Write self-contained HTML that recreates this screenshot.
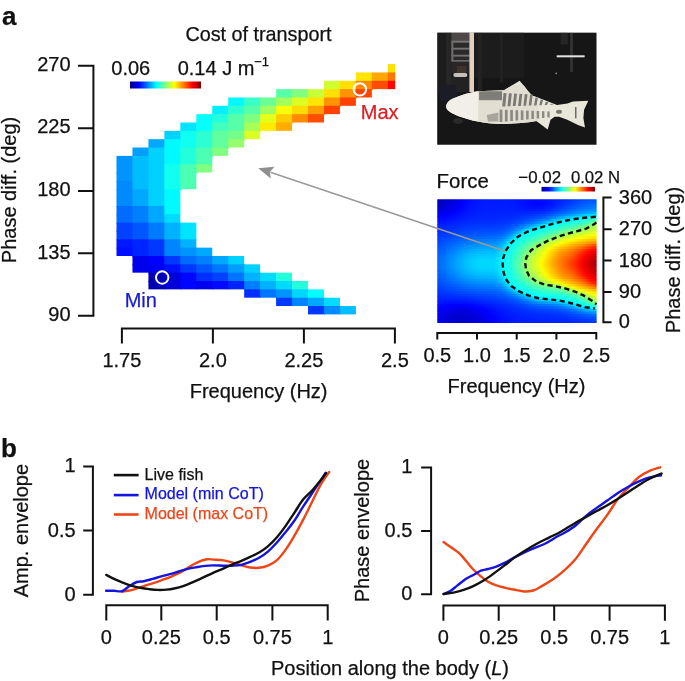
<!DOCTYPE html>
<html><head><meta charset="utf-8"><style>
html,body{margin:0;padding:0;background:#fff;}
svg{display:block;}
text{font-family:"Liberation Sans", sans-serif;fill:#111;stroke:#111;stroke-width:0.25px;}
svg{filter:blur(0.3px);}
</style></head><body>
<svg width="685" height="681" viewBox="0 0 685 681">
<defs>
<linearGradient id="jet" x1="0" x2="1" y1="0" y2="0"><stop offset="0.000" stop-color="#000080"/><stop offset="0.062" stop-color="#0000bf"/><stop offset="0.125" stop-color="#0000ff"/><stop offset="0.188" stop-color="#0040ff"/><stop offset="0.250" stop-color="#0080ff"/><stop offset="0.312" stop-color="#00bfff"/><stop offset="0.375" stop-color="#00ffff"/><stop offset="0.438" stop-color="#40ffbf"/><stop offset="0.500" stop-color="#80ff80"/><stop offset="0.562" stop-color="#bfff40"/><stop offset="0.625" stop-color="#ffff00"/><stop offset="0.688" stop-color="#ffbf00"/><stop offset="0.750" stop-color="#ff8000"/><stop offset="0.812" stop-color="#ff4000"/><stop offset="0.875" stop-color="#ff0000"/><stop offset="0.938" stop-color="#bf0000"/><stop offset="1.000" stop-color="#800000"/></linearGradient>
<clipPath id="fclip"><rect x="437.3" y="199.2" width="159.3" height="123.8"/></clipPath>
<filter id="soft" x="0" y="0" width="1" height="1"><feGaussianBlur stdDeviation="0.45"/></filter>
<clipPath id="pclip"><rect x="437.2" y="32.5" width="159.3" height="112.3"/></clipPath>
<linearGradient id="g0" gradientUnits="userSpaceOnUse" x1="437.3" x2="596.6" y1="0" y2="0"><stop offset="0.000" stop-color="#0000bf"/><stop offset="0.025" stop-color="#0000c1"/><stop offset="0.050" stop-color="#0000c8"/><stop offset="0.075" stop-color="#0000d2"/><stop offset="0.100" stop-color="#0000de"/><stop offset="0.126" stop-color="#0000eb"/><stop offset="0.151" stop-color="#0000f7"/><stop offset="0.176" stop-color="#0003ff"/><stop offset="0.201" stop-color="#000bff"/><stop offset="0.226" stop-color="#0011ff"/><stop offset="0.251" stop-color="#0015ff"/><stop offset="0.276" stop-color="#0018ff"/><stop offset="0.301" stop-color="#0019ff"/><stop offset="0.326" stop-color="#001aff"/><stop offset="0.352" stop-color="#001bff"/><stop offset="0.377" stop-color="#001bff"/><stop offset="0.402" stop-color="#001bff"/><stop offset="0.427" stop-color="#001aff"/><stop offset="0.452" stop-color="#0019ff"/><stop offset="0.477" stop-color="#0018ff"/><stop offset="0.502" stop-color="#0016ff"/><stop offset="0.527" stop-color="#0013ff"/><stop offset="0.552" stop-color="#0010ff"/><stop offset="0.578" stop-color="#000dff"/><stop offset="0.603" stop-color="#000aff"/><stop offset="0.628" stop-color="#0009ff"/><stop offset="0.653" stop-color="#000aff"/><stop offset="0.678" stop-color="#000cff"/><stop offset="0.703" stop-color="#0011ff"/><stop offset="0.728" stop-color="#0017ff"/><stop offset="0.753" stop-color="#001dff"/><stop offset="0.778" stop-color="#0024ff"/><stop offset="0.804" stop-color="#002aff"/><stop offset="0.829" stop-color="#0031ff"/><stop offset="0.854" stop-color="#0038ff"/><stop offset="0.879" stop-color="#003fff"/><stop offset="0.904" stop-color="#0046ff"/><stop offset="0.929" stop-color="#004cff"/><stop offset="0.954" stop-color="#0050ff"/><stop offset="0.979" stop-color="#0053ff"/><stop offset="1.000" stop-color="#0054ff"/></linearGradient>
<linearGradient id="g1" gradientUnits="userSpaceOnUse" x1="437.3" x2="596.6" y1="0" y2="0"><stop offset="0.000" stop-color="#0000c4"/><stop offset="0.025" stop-color="#0000c5"/><stop offset="0.050" stop-color="#0000cc"/><stop offset="0.075" stop-color="#0000d5"/><stop offset="0.100" stop-color="#0000e1"/><stop offset="0.126" stop-color="#0000ee"/><stop offset="0.151" stop-color="#0000f9"/><stop offset="0.176" stop-color="#0004ff"/><stop offset="0.201" stop-color="#000cff"/><stop offset="0.226" stop-color="#0012ff"/><stop offset="0.251" stop-color="#0016ff"/><stop offset="0.276" stop-color="#0018ff"/><stop offset="0.301" stop-color="#001aff"/><stop offset="0.326" stop-color="#001bff"/><stop offset="0.352" stop-color="#001bff"/><stop offset="0.377" stop-color="#001bff"/><stop offset="0.402" stop-color="#001bff"/><stop offset="0.427" stop-color="#001bff"/><stop offset="0.452" stop-color="#001aff"/><stop offset="0.477" stop-color="#0018ff"/><stop offset="0.502" stop-color="#0015ff"/><stop offset="0.527" stop-color="#0012ff"/><stop offset="0.552" stop-color="#000eff"/><stop offset="0.578" stop-color="#000aff"/><stop offset="0.603" stop-color="#0007ff"/><stop offset="0.628" stop-color="#0006ff"/><stop offset="0.653" stop-color="#0007ff"/><stop offset="0.678" stop-color="#000aff"/><stop offset="0.703" stop-color="#0010ff"/><stop offset="0.728" stop-color="#0017ff"/><stop offset="0.753" stop-color="#001fff"/><stop offset="0.778" stop-color="#0028ff"/><stop offset="0.804" stop-color="#0030ff"/><stop offset="0.829" stop-color="#0038ff"/><stop offset="0.854" stop-color="#0041ff"/><stop offset="0.879" stop-color="#0049ff"/><stop offset="0.904" stop-color="#0051ff"/><stop offset="0.929" stop-color="#0058ff"/><stop offset="0.954" stop-color="#005dff"/><stop offset="0.979" stop-color="#0061ff"/><stop offset="1.000" stop-color="#0062ff"/></linearGradient>
<linearGradient id="g2" gradientUnits="userSpaceOnUse" x1="437.3" x2="596.6" y1="0" y2="0"><stop offset="0.000" stop-color="#0000cb"/><stop offset="0.025" stop-color="#0000cc"/><stop offset="0.050" stop-color="#0000d2"/><stop offset="0.075" stop-color="#0000db"/><stop offset="0.100" stop-color="#0000e6"/><stop offset="0.126" stop-color="#0000f2"/><stop offset="0.151" stop-color="#0000fd"/><stop offset="0.176" stop-color="#0007ff"/><stop offset="0.201" stop-color="#000eff"/><stop offset="0.226" stop-color="#0013ff"/><stop offset="0.251" stop-color="#0017ff"/><stop offset="0.276" stop-color="#001aff"/><stop offset="0.301" stop-color="#001bff"/><stop offset="0.326" stop-color="#001cff"/><stop offset="0.352" stop-color="#001cff"/><stop offset="0.377" stop-color="#001cff"/><stop offset="0.402" stop-color="#001cff"/><stop offset="0.427" stop-color="#001cff"/><stop offset="0.452" stop-color="#001aff"/><stop offset="0.477" stop-color="#0019ff"/><stop offset="0.502" stop-color="#0016ff"/><stop offset="0.527" stop-color="#0013ff"/><stop offset="0.552" stop-color="#000fff"/><stop offset="0.578" stop-color="#000bff"/><stop offset="0.603" stop-color="#0008ff"/><stop offset="0.628" stop-color="#0007ff"/><stop offset="0.653" stop-color="#0009ff"/><stop offset="0.678" stop-color="#000dff"/><stop offset="0.703" stop-color="#0014ff"/><stop offset="0.728" stop-color="#001cff"/><stop offset="0.753" stop-color="#0025ff"/><stop offset="0.778" stop-color="#002fff"/><stop offset="0.804" stop-color="#0038ff"/><stop offset="0.829" stop-color="#0041ff"/><stop offset="0.854" stop-color="#004aff"/><stop offset="0.879" stop-color="#0054ff"/><stop offset="0.904" stop-color="#005dff"/><stop offset="0.929" stop-color="#0064ff"/><stop offset="0.954" stop-color="#0069ff"/><stop offset="0.979" stop-color="#006eff"/><stop offset="1.000" stop-color="#006fff"/></linearGradient>
<linearGradient id="g3" gradientUnits="userSpaceOnUse" x1="437.3" x2="596.6" y1="0" y2="0"><stop offset="0.000" stop-color="#0000d4"/><stop offset="0.025" stop-color="#0000d6"/><stop offset="0.050" stop-color="#0000db"/><stop offset="0.075" stop-color="#0000e3"/><stop offset="0.100" stop-color="#0000ed"/><stop offset="0.126" stop-color="#0000f7"/><stop offset="0.151" stop-color="#0002ff"/><stop offset="0.176" stop-color="#000aff"/><stop offset="0.201" stop-color="#0011ff"/><stop offset="0.226" stop-color="#0016ff"/><stop offset="0.251" stop-color="#0019ff"/><stop offset="0.276" stop-color="#001bff"/><stop offset="0.301" stop-color="#001cff"/><stop offset="0.326" stop-color="#001dff"/><stop offset="0.352" stop-color="#001dff"/><stop offset="0.377" stop-color="#001eff"/><stop offset="0.402" stop-color="#001eff"/><stop offset="0.427" stop-color="#001dff"/><stop offset="0.452" stop-color="#001cff"/><stop offset="0.477" stop-color="#001bff"/><stop offset="0.502" stop-color="#0019ff"/><stop offset="0.527" stop-color="#0017ff"/><stop offset="0.552" stop-color="#0013ff"/><stop offset="0.578" stop-color="#0011ff"/><stop offset="0.603" stop-color="#000fff"/><stop offset="0.628" stop-color="#000fff"/><stop offset="0.653" stop-color="#0011ff"/><stop offset="0.678" stop-color="#0016ff"/><stop offset="0.703" stop-color="#001dff"/><stop offset="0.728" stop-color="#0026ff"/><stop offset="0.753" stop-color="#0030ff"/><stop offset="0.778" stop-color="#003aff"/><stop offset="0.804" stop-color="#0043ff"/><stop offset="0.829" stop-color="#004dff"/><stop offset="0.854" stop-color="#0056ff"/><stop offset="0.879" stop-color="#0060ff"/><stop offset="0.904" stop-color="#0069ff"/><stop offset="0.929" stop-color="#0071ff"/><stop offset="0.954" stop-color="#0076ff"/><stop offset="0.979" stop-color="#007bff"/><stop offset="1.000" stop-color="#007dff"/></linearGradient>
<linearGradient id="g4" gradientUnits="userSpaceOnUse" x1="437.3" x2="596.6" y1="0" y2="0"><stop offset="0.000" stop-color="#0000df"/><stop offset="0.025" stop-color="#0000e1"/><stop offset="0.050" stop-color="#0000e6"/><stop offset="0.075" stop-color="#0000ed"/><stop offset="0.100" stop-color="#0000f5"/><stop offset="0.126" stop-color="#0000fe"/><stop offset="0.151" stop-color="#0007ff"/><stop offset="0.176" stop-color="#000eff"/><stop offset="0.201" stop-color="#0014ff"/><stop offset="0.226" stop-color="#0018ff"/><stop offset="0.251" stop-color="#001bff"/><stop offset="0.276" stop-color="#001dff"/><stop offset="0.301" stop-color="#001eff"/><stop offset="0.326" stop-color="#001fff"/><stop offset="0.352" stop-color="#001fff"/><stop offset="0.377" stop-color="#001fff"/><stop offset="0.402" stop-color="#001fff"/><stop offset="0.427" stop-color="#001fff"/><stop offset="0.452" stop-color="#001fff"/><stop offset="0.477" stop-color="#001fff"/><stop offset="0.502" stop-color="#001eff"/><stop offset="0.527" stop-color="#001dff"/><stop offset="0.552" stop-color="#001bff"/><stop offset="0.578" stop-color="#001aff"/><stop offset="0.603" stop-color="#001aff"/><stop offset="0.628" stop-color="#001bff"/><stop offset="0.653" stop-color="#001fff"/><stop offset="0.678" stop-color="#0024ff"/><stop offset="0.703" stop-color="#002cff"/><stop offset="0.728" stop-color="#0035ff"/><stop offset="0.753" stop-color="#003fff"/><stop offset="0.778" stop-color="#004aff"/><stop offset="0.804" stop-color="#0054ff"/><stop offset="0.829" stop-color="#005dff"/><stop offset="0.854" stop-color="#0067ff"/><stop offset="0.879" stop-color="#0071ff"/><stop offset="0.904" stop-color="#007bff"/><stop offset="0.929" stop-color="#0083ff"/><stop offset="0.954" stop-color="#0089ff"/><stop offset="0.979" stop-color="#008fff"/><stop offset="1.000" stop-color="#0091ff"/></linearGradient>
<linearGradient id="g5" gradientUnits="userSpaceOnUse" x1="437.3" x2="596.6" y1="0" y2="0"><stop offset="0.000" stop-color="#0000eb"/><stop offset="0.025" stop-color="#0000ed"/><stop offset="0.050" stop-color="#0000f1"/><stop offset="0.075" stop-color="#0000f7"/><stop offset="0.100" stop-color="#0000fe"/><stop offset="0.126" stop-color="#0006ff"/><stop offset="0.151" stop-color="#000dff"/><stop offset="0.176" stop-color="#0013ff"/><stop offset="0.201" stop-color="#0018ff"/><stop offset="0.226" stop-color="#001bff"/><stop offset="0.251" stop-color="#001eff"/><stop offset="0.276" stop-color="#001fff"/><stop offset="0.301" stop-color="#0020ff"/><stop offset="0.326" stop-color="#0021ff"/><stop offset="0.352" stop-color="#0021ff"/><stop offset="0.377" stop-color="#0022ff"/><stop offset="0.402" stop-color="#0022ff"/><stop offset="0.427" stop-color="#0022ff"/><stop offset="0.452" stop-color="#0023ff"/><stop offset="0.477" stop-color="#0023ff"/><stop offset="0.502" stop-color="#0024ff"/><stop offset="0.527" stop-color="#0024ff"/><stop offset="0.552" stop-color="#0025ff"/><stop offset="0.578" stop-color="#0026ff"/><stop offset="0.603" stop-color="#0028ff"/><stop offset="0.628" stop-color="#002bff"/><stop offset="0.653" stop-color="#002fff"/><stop offset="0.678" stop-color="#0036ff"/><stop offset="0.703" stop-color="#003fff"/><stop offset="0.728" stop-color="#0049ff"/><stop offset="0.753" stop-color="#0054ff"/><stop offset="0.778" stop-color="#0060ff"/><stop offset="0.804" stop-color="#006cff"/><stop offset="0.829" stop-color="#0076ff"/><stop offset="0.854" stop-color="#0081ff"/><stop offset="0.879" stop-color="#008cff"/><stop offset="0.904" stop-color="#0098ff"/><stop offset="0.929" stop-color="#00a1ff"/><stop offset="0.954" stop-color="#00a8ff"/><stop offset="0.979" stop-color="#00b0ff"/><stop offset="1.000" stop-color="#00b2ff"/></linearGradient>
<linearGradient id="g6" gradientUnits="userSpaceOnUse" x1="437.3" x2="596.6" y1="0" y2="0"><stop offset="0.000" stop-color="#0000f7"/><stop offset="0.025" stop-color="#0000f8"/><stop offset="0.050" stop-color="#0000fc"/><stop offset="0.075" stop-color="#0002ff"/><stop offset="0.100" stop-color="#0007ff"/><stop offset="0.126" stop-color="#000eff"/><stop offset="0.151" stop-color="#0013ff"/><stop offset="0.176" stop-color="#0018ff"/><stop offset="0.201" stop-color="#001cff"/><stop offset="0.226" stop-color="#001fff"/><stop offset="0.251" stop-color="#0021ff"/><stop offset="0.276" stop-color="#0022ff"/><stop offset="0.301" stop-color="#0023ff"/><stop offset="0.326" stop-color="#0024ff"/><stop offset="0.352" stop-color="#0024ff"/><stop offset="0.377" stop-color="#0024ff"/><stop offset="0.402" stop-color="#0025ff"/><stop offset="0.427" stop-color="#0026ff"/><stop offset="0.452" stop-color="#0027ff"/><stop offset="0.477" stop-color="#0028ff"/><stop offset="0.502" stop-color="#002aff"/><stop offset="0.527" stop-color="#002dff"/><stop offset="0.552" stop-color="#002fff"/><stop offset="0.578" stop-color="#0033ff"/><stop offset="0.603" stop-color="#0037ff"/><stop offset="0.628" stop-color="#003cff"/><stop offset="0.653" stop-color="#0043ff"/><stop offset="0.678" stop-color="#004bff"/><stop offset="0.703" stop-color="#0056ff"/><stop offset="0.728" stop-color="#0063ff"/><stop offset="0.753" stop-color="#0071ff"/><stop offset="0.778" stop-color="#0080ff"/><stop offset="0.804" stop-color="#008fff"/><stop offset="0.829" stop-color="#009cff"/><stop offset="0.854" stop-color="#00a9ff"/><stop offset="0.879" stop-color="#00b7ff"/><stop offset="0.904" stop-color="#00c6ff"/><stop offset="0.929" stop-color="#00d0ff"/><stop offset="0.954" stop-color="#00d9ff"/><stop offset="0.979" stop-color="#00e2ff"/><stop offset="1.000" stop-color="#00e5ff"/></linearGradient>
<linearGradient id="g7" gradientUnits="userSpaceOnUse" x1="437.3" x2="596.6" y1="0" y2="0"><stop offset="0.000" stop-color="#0003ff"/><stop offset="0.025" stop-color="#0004ff"/><stop offset="0.050" stop-color="#0007ff"/><stop offset="0.075" stop-color="#000bff"/><stop offset="0.100" stop-color="#0010ff"/><stop offset="0.126" stop-color="#0015ff"/><stop offset="0.151" stop-color="#001aff"/><stop offset="0.176" stop-color="#001eff"/><stop offset="0.201" stop-color="#0021ff"/><stop offset="0.226" stop-color="#0023ff"/><stop offset="0.251" stop-color="#0025ff"/><stop offset="0.276" stop-color="#0026ff"/><stop offset="0.301" stop-color="#0027ff"/><stop offset="0.326" stop-color="#0027ff"/><stop offset="0.352" stop-color="#0027ff"/><stop offset="0.377" stop-color="#0028ff"/><stop offset="0.402" stop-color="#0029ff"/><stop offset="0.427" stop-color="#002aff"/><stop offset="0.452" stop-color="#002cff"/><stop offset="0.477" stop-color="#002eff"/><stop offset="0.502" stop-color="#0032ff"/><stop offset="0.527" stop-color="#0036ff"/><stop offset="0.552" stop-color="#003cff"/><stop offset="0.578" stop-color="#0041ff"/><stop offset="0.603" stop-color="#0048ff"/><stop offset="0.628" stop-color="#0050ff"/><stop offset="0.653" stop-color="#0059ff"/><stop offset="0.678" stop-color="#0065ff"/><stop offset="0.703" stop-color="#0074ff"/><stop offset="0.728" stop-color="#0085ff"/><stop offset="0.753" stop-color="#0099ff"/><stop offset="0.778" stop-color="#00adff"/><stop offset="0.804" stop-color="#00c0ff"/><stop offset="0.829" stop-color="#00d0ff"/><stop offset="0.854" stop-color="#00dfff"/><stop offset="0.879" stop-color="#00ebff"/><stop offset="0.904" stop-color="#00f7ff"/><stop offset="0.929" stop-color="#00ffff"/><stop offset="0.954" stop-color="#08fff7"/><stop offset="0.979" stop-color="#13ffec"/><stop offset="1.000" stop-color="#1bffe4"/></linearGradient>
<linearGradient id="g8" gradientUnits="userSpaceOnUse" x1="437.3" x2="596.6" y1="0" y2="0"><stop offset="0.000" stop-color="#000dff"/><stop offset="0.025" stop-color="#000eff"/><stop offset="0.050" stop-color="#0011ff"/><stop offset="0.075" stop-color="#0014ff"/><stop offset="0.100" stop-color="#0018ff"/><stop offset="0.126" stop-color="#001cff"/><stop offset="0.151" stop-color="#0020ff"/><stop offset="0.176" stop-color="#0023ff"/><stop offset="0.201" stop-color="#0026ff"/><stop offset="0.226" stop-color="#0028ff"/><stop offset="0.251" stop-color="#0029ff"/><stop offset="0.276" stop-color="#002aff"/><stop offset="0.301" stop-color="#002bff"/><stop offset="0.326" stop-color="#002bff"/><stop offset="0.352" stop-color="#002cff"/><stop offset="0.377" stop-color="#002cff"/><stop offset="0.402" stop-color="#002eff"/><stop offset="0.427" stop-color="#0030ff"/><stop offset="0.452" stop-color="#0033ff"/><stop offset="0.477" stop-color="#0036ff"/><stop offset="0.502" stop-color="#003bff"/><stop offset="0.527" stop-color="#0043ff"/><stop offset="0.552" stop-color="#004bff"/><stop offset="0.578" stop-color="#0054ff"/><stop offset="0.603" stop-color="#005eff"/><stop offset="0.628" stop-color="#006aff"/><stop offset="0.653" stop-color="#0077ff"/><stop offset="0.678" stop-color="#0088ff"/><stop offset="0.703" stop-color="#009cff"/><stop offset="0.728" stop-color="#00b4ff"/><stop offset="0.753" stop-color="#00cdff"/><stop offset="0.778" stop-color="#00e3ff"/><stop offset="0.804" stop-color="#00f4ff"/><stop offset="0.829" stop-color="#00feff"/><stop offset="0.854" stop-color="#07fff8"/><stop offset="0.879" stop-color="#0dfff2"/><stop offset="0.904" stop-color="#14ffeb"/><stop offset="0.929" stop-color="#1cffe3"/><stop offset="0.954" stop-color="#29ffd6"/><stop offset="0.979" stop-color="#42ffbd"/><stop offset="1.000" stop-color="#59ffa6"/></linearGradient>
<linearGradient id="g9" gradientUnits="userSpaceOnUse" x1="437.3" x2="596.6" y1="0" y2="0"><stop offset="0.000" stop-color="#0016ff"/><stop offset="0.025" stop-color="#0017ff"/><stop offset="0.050" stop-color="#001aff"/><stop offset="0.075" stop-color="#001dff"/><stop offset="0.100" stop-color="#0020ff"/><stop offset="0.126" stop-color="#0024ff"/><stop offset="0.151" stop-color="#0027ff"/><stop offset="0.176" stop-color="#002aff"/><stop offset="0.201" stop-color="#002cff"/><stop offset="0.226" stop-color="#002eff"/><stop offset="0.251" stop-color="#002fff"/><stop offset="0.276" stop-color="#0030ff"/><stop offset="0.301" stop-color="#0030ff"/><stop offset="0.326" stop-color="#0031ff"/><stop offset="0.352" stop-color="#0031ff"/><stop offset="0.377" stop-color="#0032ff"/><stop offset="0.402" stop-color="#0034ff"/><stop offset="0.427" stop-color="#0037ff"/><stop offset="0.452" stop-color="#003bff"/><stop offset="0.477" stop-color="#0041ff"/><stop offset="0.502" stop-color="#0048ff"/><stop offset="0.527" stop-color="#0052ff"/><stop offset="0.552" stop-color="#005fff"/><stop offset="0.578" stop-color="#006cff"/><stop offset="0.603" stop-color="#007cff"/><stop offset="0.628" stop-color="#008dff"/><stop offset="0.653" stop-color="#00a0ff"/><stop offset="0.678" stop-color="#00b7ff"/><stop offset="0.703" stop-color="#00d1ff"/><stop offset="0.728" stop-color="#00e9ff"/><stop offset="0.753" stop-color="#00fcff"/><stop offset="0.778" stop-color="#08fff7"/><stop offset="0.804" stop-color="#10ffef"/><stop offset="0.829" stop-color="#16ffe9"/><stop offset="0.854" stop-color="#1cffe3"/><stop offset="0.879" stop-color="#24ffdb"/><stop offset="0.904" stop-color="#2dffd2"/><stop offset="0.929" stop-color="#3affc5"/><stop offset="0.954" stop-color="#51ffae"/><stop offset="0.979" stop-color="#74ff8b"/><stop offset="1.000" stop-color="#90ff6f"/></linearGradient>
<linearGradient id="g10" gradientUnits="userSpaceOnUse" x1="437.3" x2="596.6" y1="0" y2="0"><stop offset="0.000" stop-color="#001eff"/><stop offset="0.025" stop-color="#001fff"/><stop offset="0.050" stop-color="#0022ff"/><stop offset="0.075" stop-color="#0025ff"/><stop offset="0.100" stop-color="#0028ff"/><stop offset="0.126" stop-color="#002bff"/><stop offset="0.151" stop-color="#002eff"/><stop offset="0.176" stop-color="#0030ff"/><stop offset="0.201" stop-color="#0033ff"/><stop offset="0.226" stop-color="#0034ff"/><stop offset="0.251" stop-color="#0035ff"/><stop offset="0.276" stop-color="#0036ff"/><stop offset="0.301" stop-color="#0037ff"/><stop offset="0.326" stop-color="#0037ff"/><stop offset="0.352" stop-color="#0038ff"/><stop offset="0.377" stop-color="#0039ff"/><stop offset="0.402" stop-color="#003bff"/><stop offset="0.427" stop-color="#003fff"/><stop offset="0.452" stop-color="#0046ff"/><stop offset="0.477" stop-color="#004fff"/><stop offset="0.502" stop-color="#0059ff"/><stop offset="0.527" stop-color="#0068ff"/><stop offset="0.552" stop-color="#007bff"/><stop offset="0.578" stop-color="#008fff"/><stop offset="0.603" stop-color="#00a5ff"/><stop offset="0.628" stop-color="#00beff"/><stop offset="0.653" stop-color="#00d5ff"/><stop offset="0.678" stop-color="#00ecff"/><stop offset="0.703" stop-color="#00fdff"/><stop offset="0.728" stop-color="#0afff5"/><stop offset="0.753" stop-color="#12ffed"/><stop offset="0.778" stop-color="#1bffe4"/><stop offset="0.804" stop-color="#24ffdb"/><stop offset="0.829" stop-color="#2dffd2"/><stop offset="0.854" stop-color="#37ffc8"/><stop offset="0.879" stop-color="#42ffbd"/><stop offset="0.904" stop-color="#4fffb0"/><stop offset="0.929" stop-color="#60ff9f"/><stop offset="0.954" stop-color="#7dff82"/><stop offset="0.979" stop-color="#9aff65"/><stop offset="1.000" stop-color="#aaff55"/></linearGradient>
<linearGradient id="g11" gradientUnits="userSpaceOnUse" x1="437.3" x2="596.6" y1="0" y2="0"><stop offset="0.000" stop-color="#0024ff"/><stop offset="0.025" stop-color="#0027ff"/><stop offset="0.050" stop-color="#0029ff"/><stop offset="0.075" stop-color="#002cff"/><stop offset="0.100" stop-color="#002fff"/><stop offset="0.126" stop-color="#0032ff"/><stop offset="0.151" stop-color="#0035ff"/><stop offset="0.176" stop-color="#0038ff"/><stop offset="0.201" stop-color="#003aff"/><stop offset="0.226" stop-color="#003cff"/><stop offset="0.251" stop-color="#003dff"/><stop offset="0.276" stop-color="#003eff"/><stop offset="0.301" stop-color="#003eff"/><stop offset="0.326" stop-color="#003fff"/><stop offset="0.352" stop-color="#0040ff"/><stop offset="0.377" stop-color="#0041ff"/><stop offset="0.402" stop-color="#0044ff"/><stop offset="0.427" stop-color="#004aff"/><stop offset="0.452" stop-color="#0053ff"/><stop offset="0.477" stop-color="#0060ff"/><stop offset="0.502" stop-color="#0070ff"/><stop offset="0.527" stop-color="#0084ff"/><stop offset="0.552" stop-color="#00a0ff"/><stop offset="0.578" stop-color="#00bdff"/><stop offset="0.603" stop-color="#00d9ff"/><stop offset="0.628" stop-color="#00f1ff"/><stop offset="0.653" stop-color="#00ffff"/><stop offset="0.678" stop-color="#0afff5"/><stop offset="0.703" stop-color="#12ffed"/><stop offset="0.728" stop-color="#1bffe4"/><stop offset="0.753" stop-color="#26ffd9"/><stop offset="0.778" stop-color="#32ffcd"/><stop offset="0.804" stop-color="#40ffbf"/><stop offset="0.829" stop-color="#4cffb3"/><stop offset="0.854" stop-color="#58ffa7"/><stop offset="0.879" stop-color="#67ff98"/><stop offset="0.904" stop-color="#76ff89"/><stop offset="0.929" stop-color="#88ff77"/><stop offset="0.954" stop-color="#9fff60"/><stop offset="0.979" stop-color="#b2ff4d"/><stop offset="1.000" stop-color="#bcff43"/></linearGradient>
<linearGradient id="g12" gradientUnits="userSpaceOnUse" x1="437.3" x2="596.6" y1="0" y2="0"><stop offset="0.000" stop-color="#002bff"/><stop offset="0.025" stop-color="#002dff"/><stop offset="0.050" stop-color="#0030ff"/><stop offset="0.075" stop-color="#0033ff"/><stop offset="0.100" stop-color="#0037ff"/><stop offset="0.126" stop-color="#003aff"/><stop offset="0.151" stop-color="#003dff"/><stop offset="0.176" stop-color="#0040ff"/><stop offset="0.201" stop-color="#0042ff"/><stop offset="0.226" stop-color="#0044ff"/><stop offset="0.251" stop-color="#0046ff"/><stop offset="0.276" stop-color="#0046ff"/><stop offset="0.301" stop-color="#0047ff"/><stop offset="0.326" stop-color="#0048ff"/><stop offset="0.352" stop-color="#0049ff"/><stop offset="0.377" stop-color="#004bff"/><stop offset="0.402" stop-color="#0050ff"/><stop offset="0.427" stop-color="#0057ff"/><stop offset="0.452" stop-color="#0063ff"/><stop offset="0.477" stop-color="#0076ff"/><stop offset="0.502" stop-color="#008eff"/><stop offset="0.527" stop-color="#00abff"/><stop offset="0.552" stop-color="#00d0ff"/><stop offset="0.578" stop-color="#00efff"/><stop offset="0.603" stop-color="#01fffe"/><stop offset="0.628" stop-color="#0bfff4"/><stop offset="0.653" stop-color="#12ffed"/><stop offset="0.678" stop-color="#1bffe4"/><stop offset="0.703" stop-color="#25ffda"/><stop offset="0.728" stop-color="#31ffce"/><stop offset="0.753" stop-color="#40ffbf"/><stop offset="0.778" stop-color="#50ffaf"/><stop offset="0.804" stop-color="#61ff9e"/><stop offset="0.829" stop-color="#6fff90"/><stop offset="0.854" stop-color="#7eff81"/><stop offset="0.879" stop-color="#8eff71"/><stop offset="0.904" stop-color="#9cff63"/><stop offset="0.929" stop-color="#a9ff56"/><stop offset="0.954" stop-color="#b9ff46"/><stop offset="0.979" stop-color="#c8ff37"/><stop offset="1.000" stop-color="#d0ff2f"/></linearGradient>
<linearGradient id="g13" gradientUnits="userSpaceOnUse" x1="437.3" x2="596.6" y1="0" y2="0"><stop offset="0.000" stop-color="#0031ff"/><stop offset="0.025" stop-color="#0034ff"/><stop offset="0.050" stop-color="#0037ff"/><stop offset="0.075" stop-color="#003bff"/><stop offset="0.100" stop-color="#003fff"/><stop offset="0.126" stop-color="#0042ff"/><stop offset="0.151" stop-color="#0046ff"/><stop offset="0.176" stop-color="#0049ff"/><stop offset="0.201" stop-color="#004cff"/><stop offset="0.226" stop-color="#004eff"/><stop offset="0.251" stop-color="#0050ff"/><stop offset="0.276" stop-color="#0051ff"/><stop offset="0.301" stop-color="#0051ff"/><stop offset="0.326" stop-color="#0052ff"/><stop offset="0.352" stop-color="#0053ff"/><stop offset="0.377" stop-color="#0057ff"/><stop offset="0.402" stop-color="#005cff"/><stop offset="0.427" stop-color="#0067ff"/><stop offset="0.452" stop-color="#0077ff"/><stop offset="0.477" stop-color="#0092ff"/><stop offset="0.502" stop-color="#00b6ff"/><stop offset="0.527" stop-color="#00dbff"/><stop offset="0.552" stop-color="#00f9ff"/><stop offset="0.578" stop-color="#09fff6"/><stop offset="0.603" stop-color="#11ffee"/><stop offset="0.628" stop-color="#19ffe6"/><stop offset="0.653" stop-color="#23ffdc"/><stop offset="0.678" stop-color="#30ffcf"/><stop offset="0.703" stop-color="#3dffc2"/><stop offset="0.728" stop-color="#4dffb2"/><stop offset="0.753" stop-color="#5effa1"/><stop offset="0.778" stop-color="#72ff8d"/><stop offset="0.804" stop-color="#86ff79"/><stop offset="0.829" stop-color="#95ff6a"/><stop offset="0.854" stop-color="#a3ff5c"/><stop offset="0.879" stop-color="#b0ff4f"/><stop offset="0.904" stop-color="#bdff42"/><stop offset="0.929" stop-color="#c8ff37"/><stop offset="0.954" stop-color="#d4ff2b"/><stop offset="0.979" stop-color="#dfff20"/><stop offset="1.000" stop-color="#e5ff1a"/></linearGradient>
<linearGradient id="g14" gradientUnits="userSpaceOnUse" x1="437.3" x2="596.6" y1="0" y2="0"><stop offset="0.000" stop-color="#0036ff"/><stop offset="0.025" stop-color="#003aff"/><stop offset="0.050" stop-color="#003eff"/><stop offset="0.075" stop-color="#0042ff"/><stop offset="0.100" stop-color="#0047ff"/><stop offset="0.126" stop-color="#004bff"/><stop offset="0.151" stop-color="#004fff"/><stop offset="0.176" stop-color="#0053ff"/><stop offset="0.201" stop-color="#0056ff"/><stop offset="0.226" stop-color="#0059ff"/><stop offset="0.251" stop-color="#005bff"/><stop offset="0.276" stop-color="#005cff"/><stop offset="0.301" stop-color="#005dff"/><stop offset="0.326" stop-color="#005eff"/><stop offset="0.352" stop-color="#005fff"/><stop offset="0.377" stop-color="#0063ff"/><stop offset="0.402" stop-color="#006bff"/><stop offset="0.427" stop-color="#0079ff"/><stop offset="0.452" stop-color="#008fff"/><stop offset="0.477" stop-color="#00b3ff"/><stop offset="0.502" stop-color="#00e1ff"/><stop offset="0.527" stop-color="#00feff"/><stop offset="0.552" stop-color="#0cfff3"/><stop offset="0.578" stop-color="#15ffea"/><stop offset="0.603" stop-color="#1fffe0"/><stop offset="0.628" stop-color="#2bffd4"/><stop offset="0.653" stop-color="#39ffc6"/><stop offset="0.678" stop-color="#49ffb6"/><stop offset="0.703" stop-color="#5bffa4"/><stop offset="0.728" stop-color="#6dff92"/><stop offset="0.753" stop-color="#81ff7e"/><stop offset="0.778" stop-color="#96ff69"/><stop offset="0.804" stop-color="#a9ff56"/><stop offset="0.829" stop-color="#b8ff47"/><stop offset="0.854" stop-color="#c4ff3b"/><stop offset="0.879" stop-color="#d0ff2f"/><stop offset="0.904" stop-color="#dcff23"/><stop offset="0.929" stop-color="#e6ff19"/><stop offset="0.954" stop-color="#efff10"/><stop offset="0.979" stop-color="#f8ff07"/><stop offset="1.000" stop-color="#fdff02"/></linearGradient>
<linearGradient id="g15" gradientUnits="userSpaceOnUse" x1="437.3" x2="596.6" y1="0" y2="0"><stop offset="0.000" stop-color="#003cff"/><stop offset="0.025" stop-color="#0040ff"/><stop offset="0.050" stop-color="#0045ff"/><stop offset="0.075" stop-color="#004aff"/><stop offset="0.100" stop-color="#0050ff"/><stop offset="0.126" stop-color="#0055ff"/><stop offset="0.151" stop-color="#005aff"/><stop offset="0.176" stop-color="#005eff"/><stop offset="0.201" stop-color="#0062ff"/><stop offset="0.226" stop-color="#0065ff"/><stop offset="0.251" stop-color="#0067ff"/><stop offset="0.276" stop-color="#0069ff"/><stop offset="0.301" stop-color="#006aff"/><stop offset="0.326" stop-color="#006bff"/><stop offset="0.352" stop-color="#006dff"/><stop offset="0.377" stop-color="#0071ff"/><stop offset="0.402" stop-color="#007bff"/><stop offset="0.427" stop-color="#008eff"/><stop offset="0.452" stop-color="#00acff"/><stop offset="0.477" stop-color="#00d7ff"/><stop offset="0.502" stop-color="#00ffff"/><stop offset="0.527" stop-color="#0dfff2"/><stop offset="0.552" stop-color="#17ffe8"/><stop offset="0.578" stop-color="#24ffdb"/><stop offset="0.603" stop-color="#32ffcd"/><stop offset="0.628" stop-color="#41ffbe"/><stop offset="0.653" stop-color="#52ffad"/><stop offset="0.678" stop-color="#66ff99"/><stop offset="0.703" stop-color="#7bff84"/><stop offset="0.728" stop-color="#8fff70"/><stop offset="0.753" stop-color="#a4ff5b"/><stop offset="0.778" stop-color="#b9ff46"/><stop offset="0.804" stop-color="#ccff33"/><stop offset="0.829" stop-color="#daff25"/><stop offset="0.854" stop-color="#e6ff19"/><stop offset="0.879" stop-color="#f1ff0e"/><stop offset="0.904" stop-color="#fcff03"/><stop offset="0.929" stop-color="#fff700"/><stop offset="0.954" stop-color="#ffef00"/><stop offset="0.979" stop-color="#ffe700"/><stop offset="1.000" stop-color="#ffe200"/></linearGradient>
<linearGradient id="g16" gradientUnits="userSpaceOnUse" x1="437.3" x2="596.6" y1="0" y2="0"><stop offset="0.000" stop-color="#0042ff"/><stop offset="0.025" stop-color="#0047ff"/><stop offset="0.050" stop-color="#004dff"/><stop offset="0.075" stop-color="#0052ff"/><stop offset="0.100" stop-color="#0059ff"/><stop offset="0.126" stop-color="#005fff"/><stop offset="0.151" stop-color="#0065ff"/><stop offset="0.176" stop-color="#006aff"/><stop offset="0.201" stop-color="#006fff"/><stop offset="0.226" stop-color="#0072ff"/><stop offset="0.251" stop-color="#0075ff"/><stop offset="0.276" stop-color="#0077ff"/><stop offset="0.301" stop-color="#0078ff"/><stop offset="0.326" stop-color="#0079ff"/><stop offset="0.352" stop-color="#007bff"/><stop offset="0.377" stop-color="#0080ff"/><stop offset="0.402" stop-color="#008cff"/><stop offset="0.427" stop-color="#00a4ff"/><stop offset="0.452" stop-color="#00cdff"/><stop offset="0.477" stop-color="#00f7ff"/><stop offset="0.502" stop-color="#0cfff3"/><stop offset="0.527" stop-color="#18ffe7"/><stop offset="0.552" stop-color="#25ffda"/><stop offset="0.578" stop-color="#35ffca"/><stop offset="0.603" stop-color="#47ffb8"/><stop offset="0.628" stop-color="#5affa5"/><stop offset="0.653" stop-color="#6fff90"/><stop offset="0.678" stop-color="#86ff79"/><stop offset="0.703" stop-color="#9dff62"/><stop offset="0.728" stop-color="#b1ff4e"/><stop offset="0.753" stop-color="#c6ff39"/><stop offset="0.778" stop-color="#dcff23"/><stop offset="0.804" stop-color="#efff10"/><stop offset="0.829" stop-color="#fcff03"/><stop offset="0.854" stop-color="#fff600"/><stop offset="0.879" stop-color="#ffea00"/><stop offset="0.904" stop-color="#ffde00"/><stop offset="0.929" stop-color="#ffd200"/><stop offset="0.954" stop-color="#ffc800"/><stop offset="0.979" stop-color="#ffc000"/><stop offset="1.000" stop-color="#ffbb00"/></linearGradient>
<linearGradient id="g17" gradientUnits="userSpaceOnUse" x1="437.3" x2="596.6" y1="0" y2="0"><stop offset="0.000" stop-color="#0047ff"/><stop offset="0.025" stop-color="#004dff"/><stop offset="0.050" stop-color="#0054ff"/><stop offset="0.075" stop-color="#005bff"/><stop offset="0.100" stop-color="#0062ff"/><stop offset="0.126" stop-color="#0069ff"/><stop offset="0.151" stop-color="#0070ff"/><stop offset="0.176" stop-color="#0076ff"/><stop offset="0.201" stop-color="#007cff"/><stop offset="0.226" stop-color="#0080ff"/><stop offset="0.251" stop-color="#0083ff"/><stop offset="0.276" stop-color="#0085ff"/><stop offset="0.301" stop-color="#0086ff"/><stop offset="0.326" stop-color="#0087ff"/><stop offset="0.352" stop-color="#008aff"/><stop offset="0.377" stop-color="#0090ff"/><stop offset="0.402" stop-color="#009eff"/><stop offset="0.427" stop-color="#00bbff"/><stop offset="0.452" stop-color="#00eaff"/><stop offset="0.477" stop-color="#08fff7"/><stop offset="0.502" stop-color="#14ffeb"/><stop offset="0.527" stop-color="#24ffdb"/><stop offset="0.552" stop-color="#36ffc9"/><stop offset="0.578" stop-color="#49ffb6"/><stop offset="0.603" stop-color="#5effa1"/><stop offset="0.628" stop-color="#75ff8a"/><stop offset="0.653" stop-color="#8cff73"/><stop offset="0.678" stop-color="#a5ff5a"/><stop offset="0.703" stop-color="#bdff42"/><stop offset="0.728" stop-color="#d3ff2c"/><stop offset="0.753" stop-color="#e8ff17"/><stop offset="0.778" stop-color="#fdff02"/><stop offset="0.804" stop-color="#ffee00"/><stop offset="0.829" stop-color="#ffe100"/><stop offset="0.854" stop-color="#ffd200"/><stop offset="0.879" stop-color="#ffc400"/><stop offset="0.904" stop-color="#ffb800"/><stop offset="0.929" stop-color="#ffab00"/><stop offset="0.954" stop-color="#ff9d00"/><stop offset="0.979" stop-color="#ff9200"/><stop offset="1.000" stop-color="#ff8b00"/></linearGradient>
<linearGradient id="g18" gradientUnits="userSpaceOnUse" x1="437.3" x2="596.6" y1="0" y2="0"><stop offset="0.000" stop-color="#004dff"/><stop offset="0.025" stop-color="#0054ff"/><stop offset="0.050" stop-color="#005bff"/><stop offset="0.075" stop-color="#0063ff"/><stop offset="0.100" stop-color="#006bff"/><stop offset="0.126" stop-color="#0074ff"/><stop offset="0.151" stop-color="#007cff"/><stop offset="0.176" stop-color="#0083ff"/><stop offset="0.201" stop-color="#0089ff"/><stop offset="0.226" stop-color="#008eff"/><stop offset="0.251" stop-color="#0092ff"/><stop offset="0.276" stop-color="#0094ff"/><stop offset="0.301" stop-color="#0095ff"/><stop offset="0.326" stop-color="#0096ff"/><stop offset="0.352" stop-color="#0099ff"/><stop offset="0.377" stop-color="#00a0ff"/><stop offset="0.402" stop-color="#00b1ff"/><stop offset="0.427" stop-color="#00d3ff"/><stop offset="0.452" stop-color="#00fdff"/><stop offset="0.477" stop-color="#0efff1"/><stop offset="0.502" stop-color="#1dffe2"/><stop offset="0.527" stop-color="#30ffcf"/><stop offset="0.552" stop-color="#47ffb8"/><stop offset="0.578" stop-color="#5fffa0"/><stop offset="0.603" stop-color="#77ff88"/><stop offset="0.628" stop-color="#8fff70"/><stop offset="0.653" stop-color="#a8ff57"/><stop offset="0.678" stop-color="#c4ff3b"/><stop offset="0.703" stop-color="#deff21"/><stop offset="0.728" stop-color="#f4ff0b"/><stop offset="0.753" stop-color="#fff600"/><stop offset="0.778" stop-color="#ffe300"/><stop offset="0.804" stop-color="#ffd000"/><stop offset="0.829" stop-color="#ffc000"/><stop offset="0.854" stop-color="#ffae00"/><stop offset="0.879" stop-color="#ff9f00"/><stop offset="0.904" stop-color="#ff9200"/><stop offset="0.929" stop-color="#ff8000"/><stop offset="0.954" stop-color="#ff6b00"/><stop offset="0.979" stop-color="#ff5b00"/><stop offset="1.000" stop-color="#ff5000"/></linearGradient>
<linearGradient id="g19" gradientUnits="userSpaceOnUse" x1="437.3" x2="596.6" y1="0" y2="0"><stop offset="0.000" stop-color="#0052ff"/><stop offset="0.025" stop-color="#005aff"/><stop offset="0.050" stop-color="#0062ff"/><stop offset="0.075" stop-color="#006bff"/><stop offset="0.100" stop-color="#0075ff"/><stop offset="0.126" stop-color="#007eff"/><stop offset="0.151" stop-color="#0087ff"/><stop offset="0.176" stop-color="#008fff"/><stop offset="0.201" stop-color="#0096ff"/><stop offset="0.226" stop-color="#009cff"/><stop offset="0.251" stop-color="#00a0ff"/><stop offset="0.276" stop-color="#00a2ff"/><stop offset="0.301" stop-color="#00a3ff"/><stop offset="0.326" stop-color="#00a4ff"/><stop offset="0.352" stop-color="#00a7ff"/><stop offset="0.377" stop-color="#00afff"/><stop offset="0.402" stop-color="#00c3ff"/><stop offset="0.427" stop-color="#00eaff"/><stop offset="0.452" stop-color="#08fff7"/><stop offset="0.477" stop-color="#15ffea"/><stop offset="0.502" stop-color="#27ffd8"/><stop offset="0.527" stop-color="#3dffc2"/><stop offset="0.552" stop-color="#57ffa8"/><stop offset="0.578" stop-color="#75ff8a"/><stop offset="0.603" stop-color="#8eff71"/><stop offset="0.628" stop-color="#a5ff5a"/><stop offset="0.653" stop-color="#beff41"/><stop offset="0.678" stop-color="#deff21"/><stop offset="0.703" stop-color="#fcff03"/><stop offset="0.728" stop-color="#ffef00"/><stop offset="0.753" stop-color="#ffda00"/><stop offset="0.778" stop-color="#ffc500"/><stop offset="0.804" stop-color="#ffb300"/><stop offset="0.829" stop-color="#ffa200"/><stop offset="0.854" stop-color="#ff9100"/><stop offset="0.879" stop-color="#ff7f00"/><stop offset="0.904" stop-color="#ff6d00"/><stop offset="0.929" stop-color="#ff5500"/><stop offset="0.954" stop-color="#ff3900"/><stop offset="0.979" stop-color="#ff2700"/><stop offset="1.000" stop-color="#ff1d00"/></linearGradient>
<linearGradient id="g20" gradientUnits="userSpaceOnUse" x1="437.3" x2="596.6" y1="0" y2="0"><stop offset="0.000" stop-color="#0057ff"/><stop offset="0.025" stop-color="#0060ff"/><stop offset="0.050" stop-color="#0069ff"/><stop offset="0.075" stop-color="#0073ff"/><stop offset="0.100" stop-color="#007dff"/><stop offset="0.126" stop-color="#0088ff"/><stop offset="0.151" stop-color="#0092ff"/><stop offset="0.176" stop-color="#009bff"/><stop offset="0.201" stop-color="#00a3ff"/><stop offset="0.226" stop-color="#00aaff"/><stop offset="0.251" stop-color="#00aeff"/><stop offset="0.276" stop-color="#00b0ff"/><stop offset="0.301" stop-color="#00b1ff"/><stop offset="0.326" stop-color="#00b1ff"/><stop offset="0.352" stop-color="#00b4ff"/><stop offset="0.377" stop-color="#00bcff"/><stop offset="0.402" stop-color="#00d3ff"/><stop offset="0.427" stop-color="#00faff"/><stop offset="0.452" stop-color="#0dfff2"/><stop offset="0.477" stop-color="#1cffe3"/><stop offset="0.502" stop-color="#31ffce"/><stop offset="0.527" stop-color="#4affb5"/><stop offset="0.552" stop-color="#67ff98"/><stop offset="0.578" stop-color="#87ff78"/><stop offset="0.603" stop-color="#a1ff5e"/><stop offset="0.628" stop-color="#b6ff49"/><stop offset="0.653" stop-color="#d0ff2f"/><stop offset="0.678" stop-color="#f1ff0e"/><stop offset="0.703" stop-color="#ffef00"/><stop offset="0.728" stop-color="#ffda00"/><stop offset="0.753" stop-color="#ffc100"/><stop offset="0.778" stop-color="#ffaa00"/><stop offset="0.804" stop-color="#ff9b00"/><stop offset="0.829" stop-color="#ff8c00"/><stop offset="0.854" stop-color="#ff7900"/><stop offset="0.879" stop-color="#ff6200"/><stop offset="0.904" stop-color="#ff4a00"/><stop offset="0.929" stop-color="#ff2f00"/><stop offset="0.954" stop-color="#ff1500"/><stop offset="0.979" stop-color="#ff0700"/><stop offset="1.000" stop-color="#fe0000"/></linearGradient>
<linearGradient id="g21" gradientUnits="userSpaceOnUse" x1="437.3" x2="596.6" y1="0" y2="0"><stop offset="0.000" stop-color="#005cff"/><stop offset="0.025" stop-color="#0065ff"/><stop offset="0.050" stop-color="#006fff"/><stop offset="0.075" stop-color="#007aff"/><stop offset="0.100" stop-color="#0085ff"/><stop offset="0.126" stop-color="#0091ff"/><stop offset="0.151" stop-color="#009cff"/><stop offset="0.176" stop-color="#00a6ff"/><stop offset="0.201" stop-color="#00afff"/><stop offset="0.226" stop-color="#00b6ff"/><stop offset="0.251" stop-color="#00baff"/><stop offset="0.276" stop-color="#00bdff"/><stop offset="0.301" stop-color="#00beff"/><stop offset="0.326" stop-color="#00beff"/><stop offset="0.352" stop-color="#00bfff"/><stop offset="0.377" stop-color="#00c7ff"/><stop offset="0.402" stop-color="#00dfff"/><stop offset="0.427" stop-color="#02fffd"/><stop offset="0.452" stop-color="#11ffee"/><stop offset="0.477" stop-color="#23ffdc"/><stop offset="0.502" stop-color="#3affc5"/><stop offset="0.527" stop-color="#56ffa9"/><stop offset="0.552" stop-color="#75ff8a"/><stop offset="0.578" stop-color="#95ff6a"/><stop offset="0.603" stop-color="#aeff51"/><stop offset="0.628" stop-color="#c5ff3a"/><stop offset="0.653" stop-color="#dfff20"/><stop offset="0.678" stop-color="#feff01"/><stop offset="0.703" stop-color="#ffe300"/><stop offset="0.728" stop-color="#ffca00"/><stop offset="0.753" stop-color="#ffaf00"/><stop offset="0.778" stop-color="#ff9700"/><stop offset="0.804" stop-color="#ff8900"/><stop offset="0.829" stop-color="#ff7a00"/><stop offset="0.854" stop-color="#ff6600"/><stop offset="0.879" stop-color="#ff4b00"/><stop offset="0.904" stop-color="#ff2d00"/><stop offset="0.929" stop-color="#ff1500"/><stop offset="0.954" stop-color="#ff0100"/><stop offset="0.979" stop-color="#ef0000"/><stop offset="1.000" stop-color="#e60000"/></linearGradient>
<linearGradient id="g22" gradientUnits="userSpaceOnUse" x1="437.3" x2="596.6" y1="0" y2="0"><stop offset="0.000" stop-color="#0060ff"/><stop offset="0.025" stop-color="#006aff"/><stop offset="0.050" stop-color="#0074ff"/><stop offset="0.075" stop-color="#0080ff"/><stop offset="0.100" stop-color="#008cff"/><stop offset="0.126" stop-color="#0098ff"/><stop offset="0.151" stop-color="#00a4ff"/><stop offset="0.176" stop-color="#00afff"/><stop offset="0.201" stop-color="#00b9ff"/><stop offset="0.226" stop-color="#00c0ff"/><stop offset="0.251" stop-color="#00c5ff"/><stop offset="0.276" stop-color="#00c8ff"/><stop offset="0.301" stop-color="#00c8ff"/><stop offset="0.326" stop-color="#00c8ff"/><stop offset="0.352" stop-color="#00c9ff"/><stop offset="0.377" stop-color="#00d1ff"/><stop offset="0.402" stop-color="#00e9ff"/><stop offset="0.427" stop-color="#06fff9"/><stop offset="0.452" stop-color="#14ffeb"/><stop offset="0.477" stop-color="#29ffd6"/><stop offset="0.502" stop-color="#43ffbc"/><stop offset="0.527" stop-color="#61ff9e"/><stop offset="0.552" stop-color="#83ff7c"/><stop offset="0.578" stop-color="#a0ff5f"/><stop offset="0.603" stop-color="#b9ff46"/><stop offset="0.628" stop-color="#d1ff2e"/><stop offset="0.653" stop-color="#eaff15"/><stop offset="0.678" stop-color="#fff700"/><stop offset="0.703" stop-color="#ffda00"/><stop offset="0.728" stop-color="#ffbf00"/><stop offset="0.753" stop-color="#ffa400"/><stop offset="0.778" stop-color="#ff8c00"/><stop offset="0.804" stop-color="#ff7a00"/><stop offset="0.829" stop-color="#ff6a00"/><stop offset="0.854" stop-color="#ff5600"/><stop offset="0.879" stop-color="#ff3a00"/><stop offset="0.904" stop-color="#ff1b00"/><stop offset="0.929" stop-color="#ff0500"/><stop offset="0.954" stop-color="#f00000"/><stop offset="0.979" stop-color="#dc0000"/><stop offset="1.000" stop-color="#d00000"/></linearGradient>
<linearGradient id="g23" gradientUnits="userSpaceOnUse" x1="437.3" x2="596.6" y1="0" y2="0"><stop offset="0.000" stop-color="#0063ff"/><stop offset="0.025" stop-color="#006dff"/><stop offset="0.050" stop-color="#0079ff"/><stop offset="0.075" stop-color="#0085ff"/><stop offset="0.100" stop-color="#0092ff"/><stop offset="0.126" stop-color="#009eff"/><stop offset="0.151" stop-color="#00abff"/><stop offset="0.176" stop-color="#00b7ff"/><stop offset="0.201" stop-color="#00c0ff"/><stop offset="0.226" stop-color="#00c8ff"/><stop offset="0.251" stop-color="#00ceff"/><stop offset="0.276" stop-color="#00d0ff"/><stop offset="0.301" stop-color="#00d1ff"/><stop offset="0.326" stop-color="#00d0ff"/><stop offset="0.352" stop-color="#00d0ff"/><stop offset="0.377" stop-color="#00d8ff"/><stop offset="0.402" stop-color="#00f1ff"/><stop offset="0.427" stop-color="#09fff6"/><stop offset="0.452" stop-color="#17ffe8"/><stop offset="0.477" stop-color="#2dffd2"/><stop offset="0.502" stop-color="#49ffb6"/><stop offset="0.527" stop-color="#6aff95"/><stop offset="0.552" stop-color="#8dff72"/><stop offset="0.578" stop-color="#a9ff56"/><stop offset="0.603" stop-color="#c2ff3d"/><stop offset="0.628" stop-color="#dbff24"/><stop offset="0.653" stop-color="#f4ff0b"/><stop offset="0.678" stop-color="#ffee00"/><stop offset="0.703" stop-color="#ffd200"/><stop offset="0.728" stop-color="#ffb500"/><stop offset="0.753" stop-color="#ff9b00"/><stop offset="0.778" stop-color="#ff8400"/><stop offset="0.804" stop-color="#ff6f00"/><stop offset="0.829" stop-color="#ff5d00"/><stop offset="0.854" stop-color="#ff4800"/><stop offset="0.879" stop-color="#ff2d00"/><stop offset="0.904" stop-color="#ff1000"/><stop offset="0.929" stop-color="#f80000"/><stop offset="0.954" stop-color="#e30000"/><stop offset="0.979" stop-color="#cd0000"/><stop offset="1.000" stop-color="#c00000"/></linearGradient>
<linearGradient id="g24" gradientUnits="userSpaceOnUse" x1="437.3" x2="596.6" y1="0" y2="0"><stop offset="0.000" stop-color="#0065ff"/><stop offset="0.025" stop-color="#006fff"/><stop offset="0.050" stop-color="#007bff"/><stop offset="0.075" stop-color="#0088ff"/><stop offset="0.100" stop-color="#0095ff"/><stop offset="0.126" stop-color="#00a3ff"/><stop offset="0.151" stop-color="#00b0ff"/><stop offset="0.176" stop-color="#00bbff"/><stop offset="0.201" stop-color="#00c6ff"/><stop offset="0.226" stop-color="#00ceff"/><stop offset="0.251" stop-color="#00d3ff"/><stop offset="0.276" stop-color="#00d6ff"/><stop offset="0.301" stop-color="#00d6ff"/><stop offset="0.326" stop-color="#00d5ff"/><stop offset="0.352" stop-color="#00d5ff"/><stop offset="0.377" stop-color="#00ddff"/><stop offset="0.402" stop-color="#00f5ff"/><stop offset="0.427" stop-color="#0afff5"/><stop offset="0.452" stop-color="#19ffe6"/><stop offset="0.477" stop-color="#30ffcf"/><stop offset="0.502" stop-color="#4dffb2"/><stop offset="0.527" stop-color="#6fff90"/><stop offset="0.552" stop-color="#92ff6d"/><stop offset="0.578" stop-color="#afff50"/><stop offset="0.603" stop-color="#caff35"/><stop offset="0.628" stop-color="#e4ff1b"/><stop offset="0.653" stop-color="#fdff02"/><stop offset="0.678" stop-color="#ffe600"/><stop offset="0.703" stop-color="#ffc900"/><stop offset="0.728" stop-color="#ffad00"/><stop offset="0.753" stop-color="#ff9400"/><stop offset="0.778" stop-color="#ff7e00"/><stop offset="0.804" stop-color="#ff6700"/><stop offset="0.829" stop-color="#ff5200"/><stop offset="0.854" stop-color="#ff3c00"/><stop offset="0.879" stop-color="#ff2200"/><stop offset="0.904" stop-color="#ff0800"/><stop offset="0.929" stop-color="#ef0000"/><stop offset="0.954" stop-color="#d80000"/><stop offset="0.979" stop-color="#c20000"/><stop offset="1.000" stop-color="#b50000"/></linearGradient>
<linearGradient id="g25" gradientUnits="userSpaceOnUse" x1="437.3" x2="596.6" y1="0" y2="0"><stop offset="0.000" stop-color="#0066ff"/><stop offset="0.025" stop-color="#0071ff"/><stop offset="0.050" stop-color="#007dff"/><stop offset="0.075" stop-color="#008aff"/><stop offset="0.100" stop-color="#0097ff"/><stop offset="0.126" stop-color="#00a5ff"/><stop offset="0.151" stop-color="#00b2ff"/><stop offset="0.176" stop-color="#00beff"/><stop offset="0.201" stop-color="#00c8ff"/><stop offset="0.226" stop-color="#00d1ff"/><stop offset="0.251" stop-color="#00d6ff"/><stop offset="0.276" stop-color="#00d9ff"/><stop offset="0.301" stop-color="#00d9ff"/><stop offset="0.326" stop-color="#00d8ff"/><stop offset="0.352" stop-color="#00d8ff"/><stop offset="0.377" stop-color="#00dfff"/><stop offset="0.402" stop-color="#00f7ff"/><stop offset="0.427" stop-color="#0bfff4"/><stop offset="0.452" stop-color="#1bffe4"/><stop offset="0.477" stop-color="#32ffcd"/><stop offset="0.502" stop-color="#4fffb0"/><stop offset="0.527" stop-color="#71ff8e"/><stop offset="0.552" stop-color="#95ff6a"/><stop offset="0.578" stop-color="#b1ff4e"/><stop offset="0.603" stop-color="#cdff32"/><stop offset="0.628" stop-color="#e9ff16"/><stop offset="0.653" stop-color="#fffa00"/><stop offset="0.678" stop-color="#ffe000"/><stop offset="0.703" stop-color="#ffc300"/><stop offset="0.728" stop-color="#ffa700"/><stop offset="0.753" stop-color="#ff8f00"/><stop offset="0.778" stop-color="#ff7900"/><stop offset="0.804" stop-color="#ff6200"/><stop offset="0.829" stop-color="#ff4b00"/><stop offset="0.854" stop-color="#ff3400"/><stop offset="0.879" stop-color="#ff1b00"/><stop offset="0.904" stop-color="#ff0300"/><stop offset="0.929" stop-color="#e80000"/><stop offset="0.954" stop-color="#d00000"/><stop offset="0.979" stop-color="#bb0000"/><stop offset="1.000" stop-color="#ae0000"/></linearGradient>
<linearGradient id="g26" gradientUnits="userSpaceOnUse" x1="437.3" x2="596.6" y1="0" y2="0"><stop offset="0.000" stop-color="#0066ff"/><stop offset="0.025" stop-color="#0070ff"/><stop offset="0.050" stop-color="#007cff"/><stop offset="0.075" stop-color="#0089ff"/><stop offset="0.100" stop-color="#0097ff"/><stop offset="0.126" stop-color="#00a4ff"/><stop offset="0.151" stop-color="#00b1ff"/><stop offset="0.176" stop-color="#00beff"/><stop offset="0.201" stop-color="#00c8ff"/><stop offset="0.226" stop-color="#00d0ff"/><stop offset="0.251" stop-color="#00d6ff"/><stop offset="0.276" stop-color="#00d9ff"/><stop offset="0.301" stop-color="#00d9ff"/><stop offset="0.326" stop-color="#00d7ff"/><stop offset="0.352" stop-color="#00d7ff"/><stop offset="0.377" stop-color="#00dfff"/><stop offset="0.402" stop-color="#00f7ff"/><stop offset="0.427" stop-color="#0bfff4"/><stop offset="0.452" stop-color="#1bffe4"/><stop offset="0.477" stop-color="#32ffcd"/><stop offset="0.502" stop-color="#4effb1"/><stop offset="0.527" stop-color="#70ff8f"/><stop offset="0.552" stop-color="#93ff6c"/><stop offset="0.578" stop-color="#b0ff4f"/><stop offset="0.603" stop-color="#ccff33"/><stop offset="0.628" stop-color="#e8ff17"/><stop offset="0.653" stop-color="#fffb00"/><stop offset="0.678" stop-color="#ffe100"/><stop offset="0.703" stop-color="#ffc500"/><stop offset="0.728" stop-color="#ffa800"/><stop offset="0.753" stop-color="#ff9100"/><stop offset="0.778" stop-color="#ff7a00"/><stop offset="0.804" stop-color="#ff6300"/><stop offset="0.829" stop-color="#ff4c00"/><stop offset="0.854" stop-color="#ff3500"/><stop offset="0.879" stop-color="#ff1c00"/><stop offset="0.904" stop-color="#ff0300"/><stop offset="0.929" stop-color="#e90000"/><stop offset="0.954" stop-color="#d00000"/><stop offset="0.979" stop-color="#bb0000"/><stop offset="1.000" stop-color="#ae0000"/></linearGradient>
<linearGradient id="g27" gradientUnits="userSpaceOnUse" x1="437.3" x2="596.6" y1="0" y2="0"><stop offset="0.000" stop-color="#0064ff"/><stop offset="0.025" stop-color="#006fff"/><stop offset="0.050" stop-color="#007bff"/><stop offset="0.075" stop-color="#0087ff"/><stop offset="0.100" stop-color="#0095ff"/><stop offset="0.126" stop-color="#00a2ff"/><stop offset="0.151" stop-color="#00afff"/><stop offset="0.176" stop-color="#00bbff"/><stop offset="0.201" stop-color="#00c5ff"/><stop offset="0.226" stop-color="#00cdff"/><stop offset="0.251" stop-color="#00d3ff"/><stop offset="0.276" stop-color="#00d5ff"/><stop offset="0.301" stop-color="#00d5ff"/><stop offset="0.326" stop-color="#00d4ff"/><stop offset="0.352" stop-color="#00d5ff"/><stop offset="0.377" stop-color="#00ddff"/><stop offset="0.402" stop-color="#00f5ff"/><stop offset="0.427" stop-color="#0afff5"/><stop offset="0.452" stop-color="#19ffe6"/><stop offset="0.477" stop-color="#30ffcf"/><stop offset="0.502" stop-color="#4cffb3"/><stop offset="0.527" stop-color="#6dff92"/><stop offset="0.552" stop-color="#90ff6f"/><stop offset="0.578" stop-color="#adff52"/><stop offset="0.603" stop-color="#c8ff37"/><stop offset="0.628" stop-color="#e2ff1d"/><stop offset="0.653" stop-color="#fbff04"/><stop offset="0.678" stop-color="#ffe800"/><stop offset="0.703" stop-color="#ffcc00"/><stop offset="0.728" stop-color="#ffb000"/><stop offset="0.753" stop-color="#ff9700"/><stop offset="0.778" stop-color="#ff8000"/><stop offset="0.804" stop-color="#ff6800"/><stop offset="0.829" stop-color="#ff5300"/><stop offset="0.854" stop-color="#ff3d00"/><stop offset="0.879" stop-color="#ff2400"/><stop offset="0.904" stop-color="#ff0900"/><stop offset="0.929" stop-color="#ef0000"/><stop offset="0.954" stop-color="#d80000"/><stop offset="0.979" stop-color="#c20000"/><stop offset="1.000" stop-color="#b40000"/></linearGradient>
<linearGradient id="g28" gradientUnits="userSpaceOnUse" x1="437.3" x2="596.6" y1="0" y2="0"><stop offset="0.000" stop-color="#0062ff"/><stop offset="0.025" stop-color="#006cff"/><stop offset="0.050" stop-color="#0078ff"/><stop offset="0.075" stop-color="#0084ff"/><stop offset="0.100" stop-color="#0091ff"/><stop offset="0.126" stop-color="#009dff"/><stop offset="0.151" stop-color="#00aaff"/><stop offset="0.176" stop-color="#00b5ff"/><stop offset="0.201" stop-color="#00bfff"/><stop offset="0.226" stop-color="#00c7ff"/><stop offset="0.251" stop-color="#00ccff"/><stop offset="0.276" stop-color="#00cfff"/><stop offset="0.301" stop-color="#00cfff"/><stop offset="0.326" stop-color="#00ceff"/><stop offset="0.352" stop-color="#00cfff"/><stop offset="0.377" stop-color="#00d8ff"/><stop offset="0.402" stop-color="#00f2ff"/><stop offset="0.427" stop-color="#09fff6"/><stop offset="0.452" stop-color="#18ffe7"/><stop offset="0.477" stop-color="#2dffd2"/><stop offset="0.502" stop-color="#48ffb7"/><stop offset="0.527" stop-color="#67ff98"/><stop offset="0.552" stop-color="#8aff75"/><stop offset="0.578" stop-color="#a7ff58"/><stop offset="0.603" stop-color="#c1ff3e"/><stop offset="0.628" stop-color="#d9ff26"/><stop offset="0.653" stop-color="#f2ff0d"/><stop offset="0.678" stop-color="#fff000"/><stop offset="0.703" stop-color="#ffd400"/><stop offset="0.728" stop-color="#ffb800"/><stop offset="0.753" stop-color="#ff9e00"/><stop offset="0.778" stop-color="#ff8700"/><stop offset="0.804" stop-color="#ff7100"/><stop offset="0.829" stop-color="#ff5e00"/><stop offset="0.854" stop-color="#ff4800"/><stop offset="0.879" stop-color="#ff2d00"/><stop offset="0.904" stop-color="#ff1100"/><stop offset="0.929" stop-color="#f70000"/><stop offset="0.954" stop-color="#e10000"/><stop offset="0.979" stop-color="#cb0000"/><stop offset="1.000" stop-color="#be0000"/></linearGradient>
<linearGradient id="g29" gradientUnits="userSpaceOnUse" x1="437.3" x2="596.6" y1="0" y2="0"><stop offset="0.000" stop-color="#005fff"/><stop offset="0.025" stop-color="#0069ff"/><stop offset="0.050" stop-color="#0073ff"/><stop offset="0.075" stop-color="#007fff"/><stop offset="0.100" stop-color="#008bff"/><stop offset="0.126" stop-color="#0097ff"/><stop offset="0.151" stop-color="#00a3ff"/><stop offset="0.176" stop-color="#00adff"/><stop offset="0.201" stop-color="#00b7ff"/><stop offset="0.226" stop-color="#00beff"/><stop offset="0.251" stop-color="#00c3ff"/><stop offset="0.276" stop-color="#00c6ff"/><stop offset="0.301" stop-color="#00c6ff"/><stop offset="0.326" stop-color="#00c6ff"/><stop offset="0.352" stop-color="#00c8ff"/><stop offset="0.377" stop-color="#00d1ff"/><stop offset="0.402" stop-color="#00ecff"/><stop offset="0.427" stop-color="#07fff8"/><stop offset="0.452" stop-color="#15ffea"/><stop offset="0.477" stop-color="#29ffd6"/><stop offset="0.502" stop-color="#42ffbd"/><stop offset="0.527" stop-color="#5fffa0"/><stop offset="0.552" stop-color="#81ff7e"/><stop offset="0.578" stop-color="#a0ff5f"/><stop offset="0.603" stop-color="#b7ff48"/><stop offset="0.628" stop-color="#ceff31"/><stop offset="0.653" stop-color="#e8ff17"/><stop offset="0.678" stop-color="#fff900"/><stop offset="0.703" stop-color="#ffdc00"/><stop offset="0.728" stop-color="#ffc200"/><stop offset="0.753" stop-color="#ffa700"/><stop offset="0.778" stop-color="#ff8f00"/><stop offset="0.804" stop-color="#ff7c00"/><stop offset="0.829" stop-color="#ff6b00"/><stop offset="0.854" stop-color="#ff5500"/><stop offset="0.879" stop-color="#ff3900"/><stop offset="0.904" stop-color="#ff1a00"/><stop offset="0.929" stop-color="#ff0100"/><stop offset="0.954" stop-color="#eb0000"/><stop offset="0.979" stop-color="#d60000"/><stop offset="1.000" stop-color="#cb0000"/></linearGradient>
<linearGradient id="g30" gradientUnits="userSpaceOnUse" x1="437.3" x2="596.6" y1="0" y2="0"><stop offset="0.000" stop-color="#005bff"/><stop offset="0.025" stop-color="#0064ff"/><stop offset="0.050" stop-color="#006eff"/><stop offset="0.075" stop-color="#0079ff"/><stop offset="0.100" stop-color="#0084ff"/><stop offset="0.126" stop-color="#008fff"/><stop offset="0.151" stop-color="#009aff"/><stop offset="0.176" stop-color="#00a4ff"/><stop offset="0.201" stop-color="#00acff"/><stop offset="0.226" stop-color="#00b3ff"/><stop offset="0.251" stop-color="#00b8ff"/><stop offset="0.276" stop-color="#00bbff"/><stop offset="0.301" stop-color="#00bcff"/><stop offset="0.326" stop-color="#00bcff"/><stop offset="0.352" stop-color="#00beff"/><stop offset="0.377" stop-color="#00c8ff"/><stop offset="0.402" stop-color="#00e2ff"/><stop offset="0.427" stop-color="#04fffb"/><stop offset="0.452" stop-color="#12ffed"/><stop offset="0.477" stop-color="#23ffdc"/><stop offset="0.502" stop-color="#39ffc6"/><stop offset="0.527" stop-color="#54ffab"/><stop offset="0.552" stop-color="#75ff8a"/><stop offset="0.578" stop-color="#95ff6a"/><stop offset="0.603" stop-color="#abff54"/><stop offset="0.628" stop-color="#c2ff3d"/><stop offset="0.653" stop-color="#daff25"/><stop offset="0.678" stop-color="#faff05"/><stop offset="0.703" stop-color="#ffe600"/><stop offset="0.728" stop-color="#ffce00"/><stop offset="0.753" stop-color="#ffb400"/><stop offset="0.778" stop-color="#ff9a00"/><stop offset="0.804" stop-color="#ff8a00"/><stop offset="0.829" stop-color="#ff7a00"/><stop offset="0.854" stop-color="#ff6400"/><stop offset="0.879" stop-color="#ff4900"/><stop offset="0.904" stop-color="#ff2700"/><stop offset="0.929" stop-color="#ff0d00"/><stop offset="0.954" stop-color="#f70000"/><stop offset="0.979" stop-color="#e40000"/><stop offset="1.000" stop-color="#da0000"/></linearGradient>
<linearGradient id="g31" gradientUnits="userSpaceOnUse" x1="437.3" x2="596.6" y1="0" y2="0"><stop offset="0.000" stop-color="#0056ff"/><stop offset="0.025" stop-color="#005fff"/><stop offset="0.050" stop-color="#0068ff"/><stop offset="0.075" stop-color="#0071ff"/><stop offset="0.100" stop-color="#007cff"/><stop offset="0.126" stop-color="#0086ff"/><stop offset="0.151" stop-color="#0090ff"/><stop offset="0.176" stop-color="#0099ff"/><stop offset="0.201" stop-color="#00a1ff"/><stop offset="0.226" stop-color="#00a7ff"/><stop offset="0.251" stop-color="#00abff"/><stop offset="0.276" stop-color="#00aeff"/><stop offset="0.301" stop-color="#00afff"/><stop offset="0.326" stop-color="#00b0ff"/><stop offset="0.352" stop-color="#00b3ff"/><stop offset="0.377" stop-color="#00bdff"/><stop offset="0.402" stop-color="#00d6ff"/><stop offset="0.427" stop-color="#00fcff"/><stop offset="0.452" stop-color="#0dfff2"/><stop offset="0.477" stop-color="#1cffe3"/><stop offset="0.502" stop-color="#30ffcf"/><stop offset="0.527" stop-color="#48ffb7"/><stop offset="0.552" stop-color="#65ff9a"/><stop offset="0.578" stop-color="#82ff7d"/><stop offset="0.603" stop-color="#9cff63"/><stop offset="0.628" stop-color="#b3ff4c"/><stop offset="0.653" stop-color="#c9ff36"/><stop offset="0.678" stop-color="#e9ff16"/><stop offset="0.703" stop-color="#fff300"/><stop offset="0.728" stop-color="#ffde00"/><stop offset="0.753" stop-color="#ffc600"/><stop offset="0.778" stop-color="#ffaf00"/><stop offset="0.804" stop-color="#ff9c00"/><stop offset="0.829" stop-color="#ff8c00"/><stop offset="0.854" stop-color="#ff7700"/><stop offset="0.879" stop-color="#ff5d00"/><stop offset="0.904" stop-color="#ff3e00"/><stop offset="0.929" stop-color="#ff1f00"/><stop offset="0.954" stop-color="#ff0600"/><stop offset="0.979" stop-color="#f40000"/><stop offset="1.000" stop-color="#ec0000"/></linearGradient>
<linearGradient id="g32" gradientUnits="userSpaceOnUse" x1="437.3" x2="596.6" y1="0" y2="0"><stop offset="0.000" stop-color="#0051ff"/><stop offset="0.025" stop-color="#0059ff"/><stop offset="0.050" stop-color="#0061ff"/><stop offset="0.075" stop-color="#0069ff"/><stop offset="0.100" stop-color="#0073ff"/><stop offset="0.126" stop-color="#007cff"/><stop offset="0.151" stop-color="#0084ff"/><stop offset="0.176" stop-color="#008dff"/><stop offset="0.201" stop-color="#0094ff"/><stop offset="0.226" stop-color="#0099ff"/><stop offset="0.251" stop-color="#009dff"/><stop offset="0.276" stop-color="#00a0ff"/><stop offset="0.301" stop-color="#00a1ff"/><stop offset="0.326" stop-color="#00a2ff"/><stop offset="0.352" stop-color="#00a6ff"/><stop offset="0.377" stop-color="#00afff"/><stop offset="0.402" stop-color="#00c6ff"/><stop offset="0.427" stop-color="#00ecff"/><stop offset="0.452" stop-color="#08fff7"/><stop offset="0.477" stop-color="#15ffea"/><stop offset="0.502" stop-color="#26ffd9"/><stop offset="0.527" stop-color="#3affc5"/><stop offset="0.552" stop-color="#52ffad"/><stop offset="0.578" stop-color="#6cff93"/><stop offset="0.603" stop-color="#88ff77"/><stop offset="0.628" stop-color="#9fff60"/><stop offset="0.653" stop-color="#b2ff4d"/><stop offset="0.678" stop-color="#cfff30"/><stop offset="0.703" stop-color="#efff10"/><stop offset="0.728" stop-color="#fff700"/><stop offset="0.753" stop-color="#ffe000"/><stop offset="0.778" stop-color="#ffca00"/><stop offset="0.804" stop-color="#ffb500"/><stop offset="0.829" stop-color="#ffa200"/><stop offset="0.854" stop-color="#ff8d00"/><stop offset="0.879" stop-color="#ff7600"/><stop offset="0.904" stop-color="#ff5c00"/><stop offset="0.929" stop-color="#ff3b00"/><stop offset="0.954" stop-color="#ff1800"/><stop offset="0.979" stop-color="#ff0700"/><stop offset="1.000" stop-color="#fd0000"/></linearGradient>
<linearGradient id="g33" gradientUnits="userSpaceOnUse" x1="437.3" x2="596.6" y1="0" y2="0"><stop offset="0.000" stop-color="#004cff"/><stop offset="0.025" stop-color="#0052ff"/><stop offset="0.050" stop-color="#0059ff"/><stop offset="0.075" stop-color="#0061ff"/><stop offset="0.100" stop-color="#0069ff"/><stop offset="0.126" stop-color="#0071ff"/><stop offset="0.151" stop-color="#0079ff"/><stop offset="0.176" stop-color="#0080ff"/><stop offset="0.201" stop-color="#0086ff"/><stop offset="0.226" stop-color="#008bff"/><stop offset="0.251" stop-color="#008eff"/><stop offset="0.276" stop-color="#0091ff"/><stop offset="0.301" stop-color="#0092ff"/><stop offset="0.326" stop-color="#0094ff"/><stop offset="0.352" stop-color="#0097ff"/><stop offset="0.377" stop-color="#00a0ff"/><stop offset="0.402" stop-color="#00b2ff"/><stop offset="0.427" stop-color="#00d4ff"/><stop offset="0.452" stop-color="#00feff"/><stop offset="0.477" stop-color="#0efff1"/><stop offset="0.502" stop-color="#1bffe4"/><stop offset="0.527" stop-color="#2cffd3"/><stop offset="0.552" stop-color="#3fffc0"/><stop offset="0.578" stop-color="#54ffab"/><stop offset="0.603" stop-color="#6fff90"/><stop offset="0.628" stop-color="#85ff7a"/><stop offset="0.653" stop-color="#96ff69"/><stop offset="0.678" stop-color="#aaff55"/><stop offset="0.703" stop-color="#c0ff3f"/><stop offset="0.728" stop-color="#d9ff26"/><stop offset="0.753" stop-color="#f6ff09"/><stop offset="0.778" stop-color="#ffeb00"/><stop offset="0.804" stop-color="#ffd400"/><stop offset="0.829" stop-color="#ffbf00"/><stop offset="0.854" stop-color="#ffa900"/><stop offset="0.879" stop-color="#ff9500"/><stop offset="0.904" stop-color="#ff7f00"/><stop offset="0.929" stop-color="#ff6000"/><stop offset="0.954" stop-color="#ff3a00"/><stop offset="0.979" stop-color="#ff1f00"/><stop offset="1.000" stop-color="#ff1200"/></linearGradient>
<linearGradient id="g34" gradientUnits="userSpaceOnUse" x1="437.3" x2="596.6" y1="0" y2="0"><stop offset="0.000" stop-color="#0046ff"/><stop offset="0.025" stop-color="#004bff"/><stop offset="0.050" stop-color="#0052ff"/><stop offset="0.075" stop-color="#0058ff"/><stop offset="0.100" stop-color="#005fff"/><stop offset="0.126" stop-color="#0066ff"/><stop offset="0.151" stop-color="#006cff"/><stop offset="0.176" stop-color="#0073ff"/><stop offset="0.201" stop-color="#0078ff"/><stop offset="0.226" stop-color="#007cff"/><stop offset="0.251" stop-color="#007fff"/><stop offset="0.276" stop-color="#0082ff"/><stop offset="0.301" stop-color="#0083ff"/><stop offset="0.326" stop-color="#0085ff"/><stop offset="0.352" stop-color="#0088ff"/><stop offset="0.377" stop-color="#008fff"/><stop offset="0.402" stop-color="#009eff"/><stop offset="0.427" stop-color="#00bbff"/><stop offset="0.452" stop-color="#00eaff"/><stop offset="0.477" stop-color="#07fff8"/><stop offset="0.502" stop-color="#11ffee"/><stop offset="0.527" stop-color="#1dffe2"/><stop offset="0.552" stop-color="#2cffd3"/><stop offset="0.578" stop-color="#3fffc0"/><stop offset="0.603" stop-color="#54ffab"/><stop offset="0.628" stop-color="#66ff99"/><stop offset="0.653" stop-color="#75ff8a"/><stop offset="0.678" stop-color="#83ff7c"/><stop offset="0.703" stop-color="#90ff6f"/><stop offset="0.728" stop-color="#9fff60"/><stop offset="0.753" stop-color="#b6ff49"/><stop offset="0.778" stop-color="#daff25"/><stop offset="0.804" stop-color="#ffff00"/><stop offset="0.829" stop-color="#ffe400"/><stop offset="0.854" stop-color="#ffcc00"/><stop offset="0.879" stop-color="#ffb800"/><stop offset="0.904" stop-color="#ffa300"/><stop offset="0.929" stop-color="#ff8b00"/><stop offset="0.954" stop-color="#ff6b00"/><stop offset="0.979" stop-color="#ff4d00"/><stop offset="1.000" stop-color="#ff3800"/></linearGradient>
<linearGradient id="g35" gradientUnits="userSpaceOnUse" x1="437.3" x2="596.6" y1="0" y2="0"><stop offset="0.000" stop-color="#0040ff"/><stop offset="0.025" stop-color="#0044ff"/><stop offset="0.050" stop-color="#004aff"/><stop offset="0.075" stop-color="#004fff"/><stop offset="0.100" stop-color="#0055ff"/><stop offset="0.126" stop-color="#005aff"/><stop offset="0.151" stop-color="#0060ff"/><stop offset="0.176" stop-color="#0065ff"/><stop offset="0.201" stop-color="#006aff"/><stop offset="0.226" stop-color="#006eff"/><stop offset="0.251" stop-color="#0070ff"/><stop offset="0.276" stop-color="#0072ff"/><stop offset="0.301" stop-color="#0074ff"/><stop offset="0.326" stop-color="#0076ff"/><stop offset="0.352" stop-color="#0078ff"/><stop offset="0.377" stop-color="#007eff"/><stop offset="0.402" stop-color="#008bff"/><stop offset="0.427" stop-color="#00a3ff"/><stop offset="0.452" stop-color="#00cbff"/><stop offset="0.477" stop-color="#00f2ff"/><stop offset="0.502" stop-color="#07fff8"/><stop offset="0.527" stop-color="#11ffee"/><stop offset="0.552" stop-color="#1cffe3"/><stop offset="0.578" stop-color="#2bffd4"/><stop offset="0.603" stop-color="#3bffc4"/><stop offset="0.628" stop-color="#49ffb6"/><stop offset="0.653" stop-color="#56ffa9"/><stop offset="0.678" stop-color="#60ff9f"/><stop offset="0.703" stop-color="#69ff96"/><stop offset="0.728" stop-color="#72ff8d"/><stop offset="0.753" stop-color="#7eff81"/><stop offset="0.778" stop-color="#92ff6d"/><stop offset="0.804" stop-color="#b1ff4e"/><stop offset="0.829" stop-color="#dcff23"/><stop offset="0.854" stop-color="#fffc00"/><stop offset="0.879" stop-color="#ffe100"/><stop offset="0.904" stop-color="#ffcb00"/><stop offset="0.929" stop-color="#ffb600"/><stop offset="0.954" stop-color="#ff9f00"/><stop offset="0.979" stop-color="#ff8900"/><stop offset="1.000" stop-color="#ff7600"/></linearGradient>
<linearGradient id="g36" gradientUnits="userSpaceOnUse" x1="437.3" x2="596.6" y1="0" y2="0"><stop offset="0.000" stop-color="#0039ff"/><stop offset="0.025" stop-color="#003dff"/><stop offset="0.050" stop-color="#0041ff"/><stop offset="0.075" stop-color="#0046ff"/><stop offset="0.100" stop-color="#004aff"/><stop offset="0.126" stop-color="#004fff"/><stop offset="0.151" stop-color="#0054ff"/><stop offset="0.176" stop-color="#0058ff"/><stop offset="0.201" stop-color="#005cff"/><stop offset="0.226" stop-color="#005fff"/><stop offset="0.251" stop-color="#0062ff"/><stop offset="0.276" stop-color="#0064ff"/><stop offset="0.301" stop-color="#0065ff"/><stop offset="0.326" stop-color="#0067ff"/><stop offset="0.352" stop-color="#0069ff"/><stop offset="0.377" stop-color="#006eff"/><stop offset="0.402" stop-color="#0079ff"/><stop offset="0.427" stop-color="#008cff"/><stop offset="0.452" stop-color="#00a8ff"/><stop offset="0.477" stop-color="#00cbff"/><stop offset="0.502" stop-color="#00f0ff"/><stop offset="0.527" stop-color="#05fffa"/><stop offset="0.552" stop-color="#0ffff0"/><stop offset="0.578" stop-color="#1affe5"/><stop offset="0.603" stop-color="#25ffda"/><stop offset="0.628" stop-color="#30ffcf"/><stop offset="0.653" stop-color="#3affc5"/><stop offset="0.678" stop-color="#42ffbd"/><stop offset="0.703" stop-color="#48ffb7"/><stop offset="0.728" stop-color="#50ffaf"/><stop offset="0.753" stop-color="#58ffa7"/><stop offset="0.778" stop-color="#64ff9b"/><stop offset="0.804" stop-color="#74ff8b"/><stop offset="0.829" stop-color="#90ff6f"/><stop offset="0.854" stop-color="#b7ff48"/><stop offset="0.879" stop-color="#e1ff1e"/><stop offset="0.904" stop-color="#fffa00"/><stop offset="0.929" stop-color="#ffe200"/><stop offset="0.954" stop-color="#ffce00"/><stop offset="0.979" stop-color="#ffbe00"/><stop offset="1.000" stop-color="#ffb200"/></linearGradient>
<linearGradient id="g37" gradientUnits="userSpaceOnUse" x1="437.3" x2="596.6" y1="0" y2="0"><stop offset="0.000" stop-color="#0033ff"/><stop offset="0.025" stop-color="#0036ff"/><stop offset="0.050" stop-color="#0039ff"/><stop offset="0.075" stop-color="#003cff"/><stop offset="0.100" stop-color="#0040ff"/><stop offset="0.126" stop-color="#0043ff"/><stop offset="0.151" stop-color="#0047ff"/><stop offset="0.176" stop-color="#004aff"/><stop offset="0.201" stop-color="#004eff"/><stop offset="0.226" stop-color="#0051ff"/><stop offset="0.251" stop-color="#0053ff"/><stop offset="0.276" stop-color="#0055ff"/><stop offset="0.301" stop-color="#0057ff"/><stop offset="0.326" stop-color="#0058ff"/><stop offset="0.352" stop-color="#005bff"/><stop offset="0.377" stop-color="#0060ff"/><stop offset="0.402" stop-color="#0068ff"/><stop offset="0.427" stop-color="#0076ff"/><stop offset="0.452" stop-color="#0089ff"/><stop offset="0.477" stop-color="#00a3ff"/><stop offset="0.502" stop-color="#00c5ff"/><stop offset="0.527" stop-color="#00e8ff"/><stop offset="0.552" stop-color="#00ffff"/><stop offset="0.578" stop-color="#0cfff3"/><stop offset="0.603" stop-color="#14ffeb"/><stop offset="0.628" stop-color="#1cffe3"/><stop offset="0.653" stop-color="#23ffdc"/><stop offset="0.678" stop-color="#28ffd7"/><stop offset="0.703" stop-color="#2dffd2"/><stop offset="0.728" stop-color="#32ffcd"/><stop offset="0.753" stop-color="#39ffc6"/><stop offset="0.778" stop-color="#42ffbd"/><stop offset="0.804" stop-color="#4fffb0"/><stop offset="0.829" stop-color="#62ff9d"/><stop offset="0.854" stop-color="#79ff86"/><stop offset="0.879" stop-color="#99ff66"/><stop offset="0.904" stop-color="#c0ff3f"/><stop offset="0.929" stop-color="#e6ff19"/><stop offset="0.954" stop-color="#fffd00"/><stop offset="0.979" stop-color="#ffec00"/><stop offset="1.000" stop-color="#ffe100"/></linearGradient>
<linearGradient id="g38" gradientUnits="userSpaceOnUse" x1="437.3" x2="596.6" y1="0" y2="0"><stop offset="0.000" stop-color="#002cff"/><stop offset="0.025" stop-color="#002eff"/><stop offset="0.050" stop-color="#0030ff"/><stop offset="0.075" stop-color="#0032ff"/><stop offset="0.100" stop-color="#0034ff"/><stop offset="0.126" stop-color="#0037ff"/><stop offset="0.151" stop-color="#003aff"/><stop offset="0.176" stop-color="#003dff"/><stop offset="0.201" stop-color="#0040ff"/><stop offset="0.226" stop-color="#0042ff"/><stop offset="0.251" stop-color="#0045ff"/><stop offset="0.276" stop-color="#0047ff"/><stop offset="0.301" stop-color="#0049ff"/><stop offset="0.326" stop-color="#004bff"/><stop offset="0.352" stop-color="#004dff"/><stop offset="0.377" stop-color="#0052ff"/><stop offset="0.402" stop-color="#0059ff"/><stop offset="0.427" stop-color="#0063ff"/><stop offset="0.452" stop-color="#0070ff"/><stop offset="0.477" stop-color="#0082ff"/><stop offset="0.502" stop-color="#009aff"/><stop offset="0.527" stop-color="#00b8ff"/><stop offset="0.552" stop-color="#00daff"/><stop offset="0.578" stop-color="#00f5ff"/><stop offset="0.603" stop-color="#04fffb"/><stop offset="0.628" stop-color="#0cfff3"/><stop offset="0.653" stop-color="#11ffee"/><stop offset="0.678" stop-color="#14ffeb"/><stop offset="0.703" stop-color="#17ffe8"/><stop offset="0.728" stop-color="#1bffe4"/><stop offset="0.753" stop-color="#20ffdf"/><stop offset="0.778" stop-color="#27ffd8"/><stop offset="0.804" stop-color="#31ffce"/><stop offset="0.829" stop-color="#40ffbf"/><stop offset="0.854" stop-color="#51ffae"/><stop offset="0.879" stop-color="#67ff98"/><stop offset="0.904" stop-color="#82ff7d"/><stop offset="0.929" stop-color="#aaff55"/><stop offset="0.954" stop-color="#d1ff2e"/><stop offset="0.979" stop-color="#e9ff16"/><stop offset="1.000" stop-color="#f5ff0a"/></linearGradient>
<linearGradient id="g39" gradientUnits="userSpaceOnUse" x1="437.3" x2="596.6" y1="0" y2="0"><stop offset="0.000" stop-color="#0025ff"/><stop offset="0.025" stop-color="#0025ff"/><stop offset="0.050" stop-color="#0026ff"/><stop offset="0.075" stop-color="#0027ff"/><stop offset="0.100" stop-color="#0028ff"/><stop offset="0.126" stop-color="#002aff"/><stop offset="0.151" stop-color="#002cff"/><stop offset="0.176" stop-color="#002eff"/><stop offset="0.201" stop-color="#0031ff"/><stop offset="0.226" stop-color="#0034ff"/><stop offset="0.251" stop-color="#0036ff"/><stop offset="0.276" stop-color="#0039ff"/><stop offset="0.301" stop-color="#003bff"/><stop offset="0.326" stop-color="#003eff"/><stop offset="0.352" stop-color="#0041ff"/><stop offset="0.377" stop-color="#0045ff"/><stop offset="0.402" stop-color="#004bff"/><stop offset="0.427" stop-color="#0052ff"/><stop offset="0.452" stop-color="#005bff"/><stop offset="0.477" stop-color="#0068ff"/><stop offset="0.502" stop-color="#0079ff"/><stop offset="0.527" stop-color="#008eff"/><stop offset="0.552" stop-color="#00a9ff"/><stop offset="0.578" stop-color="#00c5ff"/><stop offset="0.603" stop-color="#00deff"/><stop offset="0.628" stop-color="#00f2ff"/><stop offset="0.653" stop-color="#00faff"/><stop offset="0.678" stop-color="#00ffff"/><stop offset="0.703" stop-color="#04fffb"/><stop offset="0.728" stop-color="#08fff7"/><stop offset="0.753" stop-color="#0dfff2"/><stop offset="0.778" stop-color="#12ffed"/><stop offset="0.804" stop-color="#1affe5"/><stop offset="0.829" stop-color="#24ffdb"/><stop offset="0.854" stop-color="#31ffce"/><stop offset="0.879" stop-color="#42ffbd"/><stop offset="0.904" stop-color="#57ffa8"/><stop offset="0.929" stop-color="#79ff86"/><stop offset="0.954" stop-color="#a5ff5a"/><stop offset="0.979" stop-color="#c4ff3b"/><stop offset="1.000" stop-color="#d4ff2b"/></linearGradient>
<linearGradient id="g40" gradientUnits="userSpaceOnUse" x1="437.3" x2="596.6" y1="0" y2="0"><stop offset="0.000" stop-color="#001dff"/><stop offset="0.025" stop-color="#001cff"/><stop offset="0.050" stop-color="#001cff"/><stop offset="0.075" stop-color="#001bff"/><stop offset="0.100" stop-color="#001cff"/><stop offset="0.126" stop-color="#001cff"/><stop offset="0.151" stop-color="#001eff"/><stop offset="0.176" stop-color="#0020ff"/><stop offset="0.201" stop-color="#0022ff"/><stop offset="0.226" stop-color="#0025ff"/><stop offset="0.251" stop-color="#0028ff"/><stop offset="0.276" stop-color="#002bff"/><stop offset="0.301" stop-color="#002eff"/><stop offset="0.326" stop-color="#0032ff"/><stop offset="0.352" stop-color="#0035ff"/><stop offset="0.377" stop-color="#0039ff"/><stop offset="0.402" stop-color="#003eff"/><stop offset="0.427" stop-color="#0043ff"/><stop offset="0.452" stop-color="#004bff"/><stop offset="0.477" stop-color="#0054ff"/><stop offset="0.502" stop-color="#0060ff"/><stop offset="0.527" stop-color="#006eff"/><stop offset="0.552" stop-color="#0081ff"/><stop offset="0.578" stop-color="#0095ff"/><stop offset="0.603" stop-color="#00a9ff"/><stop offset="0.628" stop-color="#00beff"/><stop offset="0.653" stop-color="#00c9ff"/><stop offset="0.678" stop-color="#00d3ff"/><stop offset="0.703" stop-color="#00dbff"/><stop offset="0.728" stop-color="#00e3ff"/><stop offset="0.753" stop-color="#00eeff"/><stop offset="0.778" stop-color="#00fbff"/><stop offset="0.804" stop-color="#06fff9"/><stop offset="0.829" stop-color="#0ffff0"/><stop offset="0.854" stop-color="#18ffe7"/><stop offset="0.879" stop-color="#24ffdb"/><stop offset="0.904" stop-color="#34ffcb"/><stop offset="0.929" stop-color="#4fffb0"/><stop offset="0.954" stop-color="#77ff88"/><stop offset="0.979" stop-color="#a0ff5f"/><stop offset="1.000" stop-color="#b6ff49"/></linearGradient>
<linearGradient id="g41" gradientUnits="userSpaceOnUse" x1="437.3" x2="596.6" y1="0" y2="0"><stop offset="0.000" stop-color="#0015ff"/><stop offset="0.025" stop-color="#0013ff"/><stop offset="0.050" stop-color="#0011ff"/><stop offset="0.075" stop-color="#000fff"/><stop offset="0.100" stop-color="#000eff"/><stop offset="0.126" stop-color="#000eff"/><stop offset="0.151" stop-color="#000fff"/><stop offset="0.176" stop-color="#0011ff"/><stop offset="0.201" stop-color="#0013ff"/><stop offset="0.226" stop-color="#0016ff"/><stop offset="0.251" stop-color="#001aff"/><stop offset="0.276" stop-color="#001eff"/><stop offset="0.301" stop-color="#0022ff"/><stop offset="0.326" stop-color="#0026ff"/><stop offset="0.352" stop-color="#002aff"/><stop offset="0.377" stop-color="#002eff"/><stop offset="0.402" stop-color="#0033ff"/><stop offset="0.427" stop-color="#0037ff"/><stop offset="0.452" stop-color="#003dff"/><stop offset="0.477" stop-color="#0044ff"/><stop offset="0.502" stop-color="#004cff"/><stop offset="0.527" stop-color="#0057ff"/><stop offset="0.552" stop-color="#0064ff"/><stop offset="0.578" stop-color="#0071ff"/><stop offset="0.603" stop-color="#007fff"/><stop offset="0.628" stop-color="#008dff"/><stop offset="0.653" stop-color="#0095ff"/><stop offset="0.678" stop-color="#009cff"/><stop offset="0.703" stop-color="#00a4ff"/><stop offset="0.728" stop-color="#00abff"/><stop offset="0.753" stop-color="#00b8ff"/><stop offset="0.778" stop-color="#00cbff"/><stop offset="0.804" stop-color="#00deff"/><stop offset="0.829" stop-color="#00f1ff"/><stop offset="0.854" stop-color="#01fffe"/><stop offset="0.879" stop-color="#0dfff2"/><stop offset="0.904" stop-color="#19ffe6"/><stop offset="0.929" stop-color="#2bffd4"/><stop offset="0.954" stop-color="#46ffb9"/><stop offset="0.979" stop-color="#71ff8e"/><stop offset="1.000" stop-color="#91ff6e"/></linearGradient>
<linearGradient id="g42" gradientUnits="userSpaceOnUse" x1="437.3" x2="596.6" y1="0" y2="0"><stop offset="0.000" stop-color="#000cff"/><stop offset="0.025" stop-color="#0009ff"/><stop offset="0.050" stop-color="#0005ff"/><stop offset="0.075" stop-color="#0002ff"/><stop offset="0.100" stop-color="#0000ff"/><stop offset="0.126" stop-color="#0000fe"/><stop offset="0.151" stop-color="#0000ff"/><stop offset="0.176" stop-color="#0001ff"/><stop offset="0.201" stop-color="#0004ff"/><stop offset="0.226" stop-color="#0008ff"/><stop offset="0.251" stop-color="#000cff"/><stop offset="0.276" stop-color="#0011ff"/><stop offset="0.301" stop-color="#0016ff"/><stop offset="0.326" stop-color="#001bff"/><stop offset="0.352" stop-color="#0020ff"/><stop offset="0.377" stop-color="#0024ff"/><stop offset="0.402" stop-color="#0029ff"/><stop offset="0.427" stop-color="#002dff"/><stop offset="0.452" stop-color="#0032ff"/><stop offset="0.477" stop-color="#0038ff"/><stop offset="0.502" stop-color="#003eff"/><stop offset="0.527" stop-color="#0045ff"/><stop offset="0.552" stop-color="#004eff"/><stop offset="0.578" stop-color="#0057ff"/><stop offset="0.603" stop-color="#0061ff"/><stop offset="0.628" stop-color="#006aff"/><stop offset="0.653" stop-color="#006fff"/><stop offset="0.678" stop-color="#0074ff"/><stop offset="0.703" stop-color="#0079ff"/><stop offset="0.728" stop-color="#007eff"/><stop offset="0.753" stop-color="#0088ff"/><stop offset="0.778" stop-color="#0096ff"/><stop offset="0.804" stop-color="#00a7ff"/><stop offset="0.829" stop-color="#00bcff"/><stop offset="0.854" stop-color="#00d3ff"/><stop offset="0.879" stop-color="#00ebff"/><stop offset="0.904" stop-color="#00fdff"/><stop offset="0.929" stop-color="#0dfff2"/><stop offset="0.954" stop-color="#1cffe3"/><stop offset="0.979" stop-color="#37ffc8"/><stop offset="1.000" stop-color="#51ffae"/></linearGradient>
<linearGradient id="g43" gradientUnits="userSpaceOnUse" x1="437.3" x2="596.6" y1="0" y2="0"><stop offset="0.000" stop-color="#0004ff"/><stop offset="0.025" stop-color="#0000fe"/><stop offset="0.050" stop-color="#0000f9"/><stop offset="0.075" stop-color="#0000f5"/><stop offset="0.100" stop-color="#0000f2"/><stop offset="0.126" stop-color="#0000f0"/><stop offset="0.151" stop-color="#0000f0"/><stop offset="0.176" stop-color="#0000f1"/><stop offset="0.201" stop-color="#0000f4"/><stop offset="0.226" stop-color="#0000f8"/><stop offset="0.251" stop-color="#0000fe"/><stop offset="0.276" stop-color="#0004ff"/><stop offset="0.301" stop-color="#000bff"/><stop offset="0.326" stop-color="#0011ff"/><stop offset="0.352" stop-color="#0016ff"/><stop offset="0.377" stop-color="#001cff"/><stop offset="0.402" stop-color="#0021ff"/><stop offset="0.427" stop-color="#0025ff"/><stop offset="0.452" stop-color="#002aff"/><stop offset="0.477" stop-color="#002eff"/><stop offset="0.502" stop-color="#0033ff"/><stop offset="0.527" stop-color="#0039ff"/><stop offset="0.552" stop-color="#003fff"/><stop offset="0.578" stop-color="#0045ff"/><stop offset="0.603" stop-color="#004cff"/><stop offset="0.628" stop-color="#0051ff"/><stop offset="0.653" stop-color="#0054ff"/><stop offset="0.678" stop-color="#0058ff"/><stop offset="0.703" stop-color="#005bff"/><stop offset="0.728" stop-color="#005fff"/><stop offset="0.753" stop-color="#0066ff"/><stop offset="0.778" stop-color="#0070ff"/><stop offset="0.804" stop-color="#007cff"/><stop offset="0.829" stop-color="#008bff"/><stop offset="0.854" stop-color="#009eff"/><stop offset="0.879" stop-color="#00b5ff"/><stop offset="0.904" stop-color="#00cdff"/><stop offset="0.929" stop-color="#00e2ff"/><stop offset="0.954" stop-color="#00f1ff"/><stop offset="0.979" stop-color="#02fffd"/><stop offset="1.000" stop-color="#0efff1"/></linearGradient>
<linearGradient id="g44" gradientUnits="userSpaceOnUse" x1="437.3" x2="596.6" y1="0" y2="0"><stop offset="0.000" stop-color="#0000fb"/><stop offset="0.025" stop-color="#0000f5"/><stop offset="0.050" stop-color="#0000ef"/><stop offset="0.075" stop-color="#0000ea"/><stop offset="0.100" stop-color="#0000e6"/><stop offset="0.126" stop-color="#0000e3"/><stop offset="0.151" stop-color="#0000e3"/><stop offset="0.176" stop-color="#0000e4"/><stop offset="0.201" stop-color="#0000e7"/><stop offset="0.226" stop-color="#0000ec"/><stop offset="0.251" stop-color="#0000f2"/><stop offset="0.276" stop-color="#0000f9"/><stop offset="0.301" stop-color="#0001ff"/><stop offset="0.326" stop-color="#0008ff"/><stop offset="0.352" stop-color="#000eff"/><stop offset="0.377" stop-color="#0014ff"/><stop offset="0.402" stop-color="#001aff"/><stop offset="0.427" stop-color="#001fff"/><stop offset="0.452" stop-color="#0023ff"/><stop offset="0.477" stop-color="#0027ff"/><stop offset="0.502" stop-color="#002bff"/><stop offset="0.527" stop-color="#002fff"/><stop offset="0.552" stop-color="#0033ff"/><stop offset="0.578" stop-color="#0038ff"/><stop offset="0.603" stop-color="#003cff"/><stop offset="0.628" stop-color="#0040ff"/><stop offset="0.653" stop-color="#0042ff"/><stop offset="0.678" stop-color="#0044ff"/><stop offset="0.703" stop-color="#0047ff"/><stop offset="0.728" stop-color="#0049ff"/><stop offset="0.753" stop-color="#004eff"/><stop offset="0.778" stop-color="#0055ff"/><stop offset="0.804" stop-color="#005eff"/><stop offset="0.829" stop-color="#0068ff"/><stop offset="0.854" stop-color="#0075ff"/><stop offset="0.879" stop-color="#0086ff"/><stop offset="0.904" stop-color="#0098ff"/><stop offset="0.929" stop-color="#00aaff"/><stop offset="0.954" stop-color="#00b9ff"/><stop offset="0.979" stop-color="#00c7ff"/><stop offset="1.000" stop-color="#00d0ff"/></linearGradient>
<linearGradient id="g45" gradientUnits="userSpaceOnUse" x1="437.3" x2="596.6" y1="0" y2="0"><stop offset="0.000" stop-color="#0000f5"/><stop offset="0.025" stop-color="#0000ee"/><stop offset="0.050" stop-color="#0000e7"/><stop offset="0.075" stop-color="#0000e1"/><stop offset="0.100" stop-color="#0000dc"/><stop offset="0.126" stop-color="#0000d9"/><stop offset="0.151" stop-color="#0000d8"/><stop offset="0.176" stop-color="#0000d9"/><stop offset="0.201" stop-color="#0000dc"/><stop offset="0.226" stop-color="#0000e2"/><stop offset="0.251" stop-color="#0000e8"/><stop offset="0.276" stop-color="#0000f0"/><stop offset="0.301" stop-color="#0000f8"/><stop offset="0.326" stop-color="#0001ff"/><stop offset="0.352" stop-color="#0008ff"/><stop offset="0.377" stop-color="#000eff"/><stop offset="0.402" stop-color="#0014ff"/><stop offset="0.427" stop-color="#0019ff"/><stop offset="0.452" stop-color="#001eff"/><stop offset="0.477" stop-color="#0021ff"/><stop offset="0.502" stop-color="#0025ff"/><stop offset="0.527" stop-color="#0028ff"/><stop offset="0.552" stop-color="#002bff"/><stop offset="0.578" stop-color="#002eff"/><stop offset="0.603" stop-color="#0032ff"/><stop offset="0.628" stop-color="#0034ff"/><stop offset="0.653" stop-color="#0035ff"/><stop offset="0.678" stop-color="#0037ff"/><stop offset="0.703" stop-color="#0039ff"/><stop offset="0.728" stop-color="#003aff"/><stop offset="0.753" stop-color="#003eff"/><stop offset="0.778" stop-color="#0043ff"/><stop offset="0.804" stop-color="#0048ff"/><stop offset="0.829" stop-color="#0050ff"/><stop offset="0.854" stop-color="#0059ff"/><stop offset="0.879" stop-color="#0064ff"/><stop offset="0.904" stop-color="#0071ff"/><stop offset="0.929" stop-color="#007dff"/><stop offset="0.954" stop-color="#0088ff"/><stop offset="0.979" stop-color="#0092ff"/><stop offset="1.000" stop-color="#0099ff"/></linearGradient>
<linearGradient id="g46" gradientUnits="userSpaceOnUse" x1="437.3" x2="596.6" y1="0" y2="0"><stop offset="0.000" stop-color="#0000f1"/><stop offset="0.025" stop-color="#0000e9"/><stop offset="0.050" stop-color="#0000e1"/><stop offset="0.075" stop-color="#0000da"/><stop offset="0.100" stop-color="#0000d5"/><stop offset="0.126" stop-color="#0000d1"/><stop offset="0.151" stop-color="#0000d0"/><stop offset="0.176" stop-color="#0000d1"/><stop offset="0.201" stop-color="#0000d5"/><stop offset="0.226" stop-color="#0000da"/><stop offset="0.251" stop-color="#0000e1"/><stop offset="0.276" stop-color="#0000ea"/><stop offset="0.301" stop-color="#0000f2"/><stop offset="0.326" stop-color="#0000fa"/><stop offset="0.352" stop-color="#0003ff"/><stop offset="0.377" stop-color="#000aff"/><stop offset="0.402" stop-color="#0010ff"/><stop offset="0.427" stop-color="#0015ff"/><stop offset="0.452" stop-color="#001aff"/><stop offset="0.477" stop-color="#001dff"/><stop offset="0.502" stop-color="#0020ff"/><stop offset="0.527" stop-color="#0023ff"/><stop offset="0.552" stop-color="#0026ff"/><stop offset="0.578" stop-color="#0028ff"/><stop offset="0.603" stop-color="#002aff"/><stop offset="0.628" stop-color="#002cff"/><stop offset="0.653" stop-color="#002dff"/><stop offset="0.678" stop-color="#002eff"/><stop offset="0.703" stop-color="#002fff"/><stop offset="0.728" stop-color="#0030ff"/><stop offset="0.753" stop-color="#0032ff"/><stop offset="0.778" stop-color="#0036ff"/><stop offset="0.804" stop-color="#003aff"/><stop offset="0.829" stop-color="#003fff"/><stop offset="0.854" stop-color="#0045ff"/><stop offset="0.879" stop-color="#004dff"/><stop offset="0.904" stop-color="#0056ff"/><stop offset="0.929" stop-color="#005eff"/><stop offset="0.954" stop-color="#0065ff"/><stop offset="0.979" stop-color="#006cff"/><stop offset="1.000" stop-color="#0071ff"/></linearGradient>
<linearGradient id="g47" gradientUnits="userSpaceOnUse" x1="437.3" x2="596.6" y1="0" y2="0"><stop offset="0.000" stop-color="#0000ef"/><stop offset="0.025" stop-color="#0000e6"/><stop offset="0.050" stop-color="#0000de"/><stop offset="0.075" stop-color="#0000d7"/><stop offset="0.100" stop-color="#0000d2"/><stop offset="0.126" stop-color="#0000ce"/><stop offset="0.151" stop-color="#0000cd"/><stop offset="0.176" stop-color="#0000ce"/><stop offset="0.201" stop-color="#0000d1"/><stop offset="0.226" stop-color="#0000d7"/><stop offset="0.251" stop-color="#0000de"/><stop offset="0.276" stop-color="#0000e6"/><stop offset="0.301" stop-color="#0000ef"/><stop offset="0.326" stop-color="#0000f7"/><stop offset="0.352" stop-color="#0000ff"/><stop offset="0.377" stop-color="#0008ff"/><stop offset="0.402" stop-color="#000eff"/><stop offset="0.427" stop-color="#0013ff"/><stop offset="0.452" stop-color="#0017ff"/><stop offset="0.477" stop-color="#001aff"/><stop offset="0.502" stop-color="#001dff"/><stop offset="0.527" stop-color="#0020ff"/><stop offset="0.552" stop-color="#0022ff"/><stop offset="0.578" stop-color="#0023ff"/><stop offset="0.603" stop-color="#0025ff"/><stop offset="0.628" stop-color="#0026ff"/><stop offset="0.653" stop-color="#0027ff"/><stop offset="0.678" stop-color="#0027ff"/><stop offset="0.703" stop-color="#0028ff"/><stop offset="0.728" stop-color="#0029ff"/><stop offset="0.753" stop-color="#002bff"/><stop offset="0.778" stop-color="#002dff"/><stop offset="0.804" stop-color="#0030ff"/><stop offset="0.829" stop-color="#0033ff"/><stop offset="0.854" stop-color="#0038ff"/><stop offset="0.879" stop-color="#003dff"/><stop offset="0.904" stop-color="#0043ff"/><stop offset="0.929" stop-color="#0048ff"/><stop offset="0.954" stop-color="#004dff"/><stop offset="0.979" stop-color="#0052ff"/><stop offset="1.000" stop-color="#0055ff"/></linearGradient>
<linearGradient id="g48" gradientUnits="userSpaceOnUse" x1="437.3" x2="596.6" y1="0" y2="0"><stop offset="0.000" stop-color="#0000ef"/><stop offset="0.025" stop-color="#0000e7"/><stop offset="0.050" stop-color="#0000df"/><stop offset="0.075" stop-color="#0000d8"/><stop offset="0.100" stop-color="#0000d2"/><stop offset="0.126" stop-color="#0000cf"/><stop offset="0.151" stop-color="#0000cd"/><stop offset="0.176" stop-color="#0000ce"/><stop offset="0.201" stop-color="#0000d2"/><stop offset="0.226" stop-color="#0000d7"/><stop offset="0.251" stop-color="#0000de"/><stop offset="0.276" stop-color="#0000e6"/><stop offset="0.301" stop-color="#0000ef"/><stop offset="0.326" stop-color="#0000f7"/><stop offset="0.352" stop-color="#0000ff"/><stop offset="0.377" stop-color="#0007ff"/><stop offset="0.402" stop-color="#000dff"/><stop offset="0.427" stop-color="#0011ff"/><stop offset="0.452" stop-color="#0015ff"/><stop offset="0.477" stop-color="#0019ff"/><stop offset="0.502" stop-color="#001bff"/><stop offset="0.527" stop-color="#001dff"/><stop offset="0.552" stop-color="#001fff"/><stop offset="0.578" stop-color="#0020ff"/><stop offset="0.603" stop-color="#0021ff"/><stop offset="0.628" stop-color="#0022ff"/><stop offset="0.653" stop-color="#0023ff"/><stop offset="0.678" stop-color="#0023ff"/><stop offset="0.703" stop-color="#0024ff"/><stop offset="0.728" stop-color="#0024ff"/><stop offset="0.753" stop-color="#0025ff"/><stop offset="0.778" stop-color="#0027ff"/><stop offset="0.804" stop-color="#0029ff"/><stop offset="0.829" stop-color="#002bff"/><stop offset="0.854" stop-color="#002fff"/><stop offset="0.879" stop-color="#0032ff"/><stop offset="0.904" stop-color="#0036ff"/><stop offset="0.929" stop-color="#003aff"/><stop offset="0.954" stop-color="#003dff"/><stop offset="0.979" stop-color="#0040ff"/><stop offset="1.000" stop-color="#0042ff"/></linearGradient>
<linearGradient id="g49" gradientUnits="userSpaceOnUse" x1="437.3" x2="596.6" y1="0" y2="0"><stop offset="0.000" stop-color="#0000f1"/><stop offset="0.025" stop-color="#0000ea"/><stop offset="0.050" stop-color="#0000e2"/><stop offset="0.075" stop-color="#0000dc"/><stop offset="0.100" stop-color="#0000d7"/><stop offset="0.126" stop-color="#0000d3"/><stop offset="0.151" stop-color="#0000d2"/><stop offset="0.176" stop-color="#0000d3"/><stop offset="0.201" stop-color="#0000d6"/><stop offset="0.226" stop-color="#0000db"/><stop offset="0.251" stop-color="#0000e1"/><stop offset="0.276" stop-color="#0000e9"/><stop offset="0.301" stop-color="#0000f1"/><stop offset="0.326" stop-color="#0000f8"/><stop offset="0.352" stop-color="#0001ff"/><stop offset="0.377" stop-color="#0007ff"/><stop offset="0.402" stop-color="#000dff"/><stop offset="0.427" stop-color="#0011ff"/><stop offset="0.452" stop-color="#0015ff"/><stop offset="0.477" stop-color="#0018ff"/><stop offset="0.502" stop-color="#001aff"/><stop offset="0.527" stop-color="#001cff"/><stop offset="0.552" stop-color="#001dff"/><stop offset="0.578" stop-color="#001eff"/><stop offset="0.603" stop-color="#001fff"/><stop offset="0.628" stop-color="#001fff"/><stop offset="0.653" stop-color="#0020ff"/><stop offset="0.678" stop-color="#0020ff"/><stop offset="0.703" stop-color="#0020ff"/><stop offset="0.728" stop-color="#0021ff"/><stop offset="0.753" stop-color="#0022ff"/><stop offset="0.778" stop-color="#0023ff"/><stop offset="0.804" stop-color="#0024ff"/><stop offset="0.829" stop-color="#0026ff"/><stop offset="0.854" stop-color="#0028ff"/><stop offset="0.879" stop-color="#002bff"/><stop offset="0.904" stop-color="#002dff"/><stop offset="0.929" stop-color="#0030ff"/><stop offset="0.954" stop-color="#0032ff"/><stop offset="0.979" stop-color="#0034ff"/><stop offset="1.000" stop-color="#0035ff"/></linearGradient>
</defs>

<!-- ===== panel a ===== -->
<text x="2" y="24.7" font-size="26" font-weight="bold">a</text>
<text x="258.5" y="40.9" font-size="19.8" text-anchor="middle">Cost of transport</text>
<text x="111.3" y="75" font-size="20">0.06</text>
<text x="177.7" y="75" font-size="20">0.14 J m</text>
<text x="254.2" y="66.2" font-size="13">−1</text>
<rect x="130" y="81.5" width="71" height="7" fill="url(#jet)"/>

<!-- heatmap -->
<g>
<rect x="116.50" y="155.87" width="16.96" height="9.34" fill="#0094ff"/>
<rect x="116.50" y="164.22" width="16.96" height="9.34" fill="#0094ff"/>
<rect x="116.50" y="172.56" width="16.96" height="9.34" fill="#0094ff"/>
<rect x="116.50" y="180.90" width="16.96" height="9.34" fill="#008aff"/>
<rect x="116.50" y="189.25" width="16.96" height="9.34" fill="#008aff"/>
<rect x="116.50" y="197.59" width="16.96" height="9.34" fill="#008aff"/>
<rect x="116.50" y="205.93" width="16.96" height="9.34" fill="#006bff"/>
<rect x="116.50" y="214.27" width="16.96" height="9.34" fill="#006bff"/>
<rect x="116.50" y="222.62" width="16.96" height="9.34" fill="#0042ff"/>
<rect x="116.50" y="230.96" width="16.96" height="9.34" fill="#0042ff"/>
<rect x="116.50" y="239.30" width="16.96" height="9.34" fill="#0019ff"/>
<rect x="116.50" y="247.65" width="16.96" height="8.34" fill="#000fff"/>
<rect x="132.46" y="147.53" width="16.96" height="9.34" fill="#009eff"/>
<rect x="132.46" y="155.87" width="16.96" height="9.34" fill="#00bdff"/>
<rect x="132.46" y="164.22" width="16.96" height="9.34" fill="#00bdff"/>
<rect x="132.46" y="172.56" width="16.96" height="9.34" fill="#00bdff"/>
<rect x="132.46" y="180.90" width="16.96" height="9.34" fill="#00bdff"/>
<rect x="132.46" y="189.25" width="16.96" height="9.34" fill="#00a8ff"/>
<rect x="132.46" y="197.59" width="16.96" height="9.34" fill="#00a8ff"/>
<rect x="132.46" y="205.93" width="16.96" height="9.34" fill="#0080ff"/>
<rect x="132.46" y="214.27" width="16.96" height="9.34" fill="#0080ff"/>
<rect x="132.46" y="222.62" width="16.96" height="9.34" fill="#0057ff"/>
<rect x="132.46" y="230.96" width="16.96" height="9.34" fill="#0057ff"/>
<rect x="132.46" y="239.30" width="16.96" height="9.34" fill="#0024ff"/>
<rect x="132.46" y="247.65" width="16.96" height="9.34" fill="#0024ff"/>
<rect x="132.46" y="255.99" width="16.96" height="9.34" fill="#0000eb"/>
<rect x="132.46" y="264.33" width="16.96" height="8.34" fill="#0000eb"/>
<rect x="148.42" y="139.19" width="16.96" height="9.34" fill="#00a8ff"/>
<rect x="148.42" y="147.53" width="16.96" height="9.34" fill="#00d1ff"/>
<rect x="148.42" y="155.87" width="16.96" height="9.34" fill="#00d1ff"/>
<rect x="148.42" y="164.22" width="16.96" height="9.34" fill="#00d1ff"/>
<rect x="148.42" y="172.56" width="16.96" height="9.34" fill="#00d1ff"/>
<rect x="148.42" y="180.90" width="16.96" height="9.34" fill="#00d1ff"/>
<rect x="148.42" y="189.25" width="16.96" height="9.34" fill="#00d1ff"/>
<rect x="148.42" y="197.59" width="16.96" height="9.34" fill="#00d1ff"/>
<rect x="148.42" y="205.93" width="16.96" height="9.34" fill="#00a8ff"/>
<rect x="148.42" y="214.27" width="16.96" height="9.34" fill="#00a8ff"/>
<rect x="148.42" y="222.62" width="16.96" height="9.34" fill="#007aff"/>
<rect x="148.42" y="230.96" width="16.96" height="9.34" fill="#007aff"/>
<rect x="148.42" y="239.30" width="16.96" height="9.34" fill="#0038ff"/>
<rect x="148.42" y="247.65" width="16.96" height="9.34" fill="#0038ff"/>
<rect x="148.42" y="255.99" width="16.96" height="9.34" fill="#0000ff"/>
<rect x="148.42" y="264.33" width="16.96" height="9.34" fill="#0000f0"/>
<rect x="148.42" y="272.67" width="16.96" height="9.34" fill="#0000b2"/>
<rect x="148.42" y="281.02" width="16.96" height="8.34" fill="#0000b2"/>
<rect x="164.38" y="130.84" width="16.96" height="9.34" fill="#00d1ff"/>
<rect x="164.38" y="139.19" width="16.96" height="9.34" fill="#00faff"/>
<rect x="164.38" y="147.53" width="16.96" height="9.34" fill="#00faff"/>
<rect x="164.38" y="155.87" width="16.96" height="9.34" fill="#00faff"/>
<rect x="164.38" y="164.22" width="16.96" height="9.34" fill="#0ffff0"/>
<rect x="164.38" y="172.56" width="16.96" height="9.34" fill="#0ffff0"/>
<rect x="164.38" y="180.90" width="16.96" height="9.34" fill="#0ffff0"/>
<rect x="164.38" y="189.25" width="15.96" height="9.34" fill="#00faff"/>
<rect x="164.38" y="197.59" width="15.96" height="9.34" fill="#00faff"/>
<rect x="164.38" y="205.93" width="15.96" height="9.34" fill="#00faff"/>
<rect x="164.38" y="214.27" width="15.96" height="9.34" fill="#00dbff"/>
<rect x="164.38" y="222.62" width="16.96" height="9.34" fill="#00b2ff"/>
<rect x="164.38" y="230.96" width="16.96" height="9.34" fill="#00b2ff"/>
<rect x="164.38" y="239.30" width="16.96" height="9.34" fill="#0085ff"/>
<rect x="164.38" y="247.65" width="16.96" height="9.34" fill="#0085ff"/>
<rect x="164.38" y="255.99" width="16.96" height="9.34" fill="#0038ff"/>
<rect x="164.38" y="264.33" width="16.96" height="9.34" fill="#000fff"/>
<rect x="164.38" y="272.67" width="16.96" height="9.34" fill="#0000db"/>
<rect x="164.38" y="281.02" width="16.96" height="8.34" fill="#0000db"/>
<rect x="180.34" y="122.50" width="16.96" height="9.34" fill="#00e5ff"/>
<rect x="180.34" y="130.84" width="16.96" height="9.34" fill="#0ffff0"/>
<rect x="180.34" y="139.19" width="16.96" height="9.34" fill="#0ffff0"/>
<rect x="180.34" y="147.53" width="16.96" height="9.34" fill="#24ffdb"/>
<rect x="180.34" y="155.87" width="16.96" height="9.34" fill="#24ffdb"/>
<rect x="180.34" y="164.22" width="16.96" height="9.34" fill="#4dffb2"/>
<rect x="180.34" y="172.56" width="15.96" height="9.34" fill="#4dffb2"/>
<rect x="180.34" y="180.90" width="15.96" height="8.34" fill="#4dffb2"/>
<rect x="180.34" y="222.62" width="15.96" height="9.34" fill="#00e5ff"/>
<rect x="180.34" y="230.96" width="15.96" height="9.34" fill="#00e5ff"/>
<rect x="180.34" y="239.30" width="15.96" height="9.34" fill="#00b2ff"/>
<rect x="180.34" y="247.65" width="16.96" height="9.34" fill="#0094ff"/>
<rect x="180.34" y="255.99" width="16.96" height="9.34" fill="#006bff"/>
<rect x="180.34" y="264.33" width="16.96" height="9.34" fill="#0038ff"/>
<rect x="180.34" y="272.67" width="16.96" height="9.34" fill="#0005ff"/>
<rect x="180.34" y="281.02" width="16.96" height="8.34" fill="#0005ff"/>
<rect x="196.30" y="114.16" width="16.96" height="9.34" fill="#05fffa"/>
<rect x="196.30" y="122.50" width="16.96" height="9.34" fill="#05fffa"/>
<rect x="196.30" y="130.84" width="16.96" height="9.34" fill="#2effd1"/>
<rect x="196.30" y="139.19" width="16.96" height="9.34" fill="#2effd1"/>
<rect x="196.30" y="147.53" width="16.96" height="9.34" fill="#4dffb2"/>
<rect x="196.30" y="155.87" width="15.96" height="9.34" fill="#4dffb2"/>
<rect x="196.30" y="164.22" width="15.96" height="8.34" fill="#80ff80"/>
<rect x="196.30" y="247.65" width="15.96" height="9.34" fill="#00a8ff"/>
<rect x="196.30" y="255.99" width="16.96" height="9.34" fill="#0080ff"/>
<rect x="196.30" y="264.33" width="16.96" height="9.34" fill="#0057ff"/>
<rect x="196.30" y="272.67" width="16.96" height="9.34" fill="#002eff"/>
<rect x="196.30" y="281.02" width="16.96" height="8.34" fill="#0000f0"/>
<rect x="212.26" y="105.81" width="16.96" height="9.34" fill="#00f0ff"/>
<rect x="212.26" y="114.16" width="16.96" height="9.34" fill="#24ffdb"/>
<rect x="212.26" y="122.50" width="16.96" height="9.34" fill="#42ffbd"/>
<rect x="212.26" y="130.84" width="16.96" height="9.34" fill="#61ff9e"/>
<rect x="212.26" y="139.19" width="16.96" height="9.34" fill="#61ff9e"/>
<rect x="212.26" y="147.53" width="15.96" height="8.34" fill="#80ff80"/>
<rect x="212.26" y="255.99" width="16.96" height="9.34" fill="#00a8ff"/>
<rect x="212.26" y="264.33" width="16.96" height="9.34" fill="#0075ff"/>
<rect x="212.26" y="272.67" width="16.96" height="9.34" fill="#0042ff"/>
<rect x="212.26" y="281.02" width="16.96" height="8.34" fill="#000aff"/>
<rect x="228.22" y="97.47" width="16.96" height="9.34" fill="#00faff"/>
<rect x="228.22" y="105.81" width="16.96" height="9.34" fill="#2effd1"/>
<rect x="228.22" y="114.16" width="16.96" height="9.34" fill="#57ffa8"/>
<rect x="228.22" y="122.50" width="16.96" height="9.34" fill="#57ffa8"/>
<rect x="228.22" y="130.84" width="16.96" height="9.34" fill="#75ff8a"/>
<rect x="228.22" y="139.19" width="15.96" height="8.34" fill="#94ff6b"/>
<rect x="228.22" y="255.99" width="15.96" height="9.34" fill="#00d1ff"/>
<rect x="228.22" y="264.33" width="16.96" height="9.34" fill="#009eff"/>
<rect x="228.22" y="272.67" width="16.96" height="9.34" fill="#0075ff"/>
<rect x="228.22" y="281.02" width="16.96" height="8.34" fill="#0024ff"/>
<rect x="244.18" y="97.47" width="16.96" height="9.34" fill="#38ffc7"/>
<rect x="244.18" y="105.81" width="16.96" height="9.34" fill="#57ffa8"/>
<rect x="244.18" y="114.16" width="16.96" height="9.34" fill="#80ff80"/>
<rect x="244.18" y="122.50" width="16.96" height="9.34" fill="#a8ff57"/>
<rect x="244.18" y="130.84" width="15.96" height="8.34" fill="#dbff24"/>
<rect x="244.18" y="264.33" width="15.96" height="9.34" fill="#00d1ff"/>
<rect x="244.18" y="272.67" width="16.96" height="9.34" fill="#00b2ff"/>
<rect x="244.18" y="281.02" width="16.96" height="9.34" fill="#0080ff"/>
<rect x="244.18" y="289.36" width="16.96" height="8.34" fill="#002eff"/>
<rect x="260.14" y="97.47" width="16.96" height="9.34" fill="#6bff94"/>
<rect x="260.14" y="105.81" width="16.96" height="9.34" fill="#9eff61"/>
<rect x="260.14" y="114.16" width="16.96" height="9.34" fill="#e5ff1a"/>
<rect x="260.14" y="122.50" width="16.96" height="8.34" fill="#ffeb00"/>
<rect x="260.14" y="272.67" width="16.96" height="9.34" fill="#00dbff"/>
<rect x="260.14" y="281.02" width="16.96" height="9.34" fill="#00b2ff"/>
<rect x="260.14" y="289.36" width="16.96" height="8.34" fill="#0075ff"/>
<rect x="276.10" y="89.13" width="16.96" height="9.34" fill="#57ffa8"/>
<rect x="276.10" y="97.47" width="16.96" height="9.34" fill="#a3ff5c"/>
<rect x="276.10" y="105.81" width="16.96" height="9.34" fill="#faff05"/>
<rect x="276.10" y="114.16" width="16.96" height="9.34" fill="#ffcc00"/>
<rect x="276.10" y="122.50" width="15.96" height="8.34" fill="#ffad00"/>
<rect x="276.10" y="272.67" width="15.96" height="9.34" fill="#24ffdb"/>
<rect x="276.10" y="281.02" width="16.96" height="9.34" fill="#00dbff"/>
<rect x="276.10" y="289.36" width="16.96" height="9.34" fill="#0094ff"/>
<rect x="276.10" y="297.70" width="16.96" height="8.34" fill="#0038ff"/>
<rect x="292.06" y="89.13" width="16.96" height="9.34" fill="#80ff80"/>
<rect x="292.06" y="97.47" width="16.96" height="9.34" fill="#dbff24"/>
<rect x="292.06" y="105.81" width="16.96" height="9.34" fill="#ffdb00"/>
<rect x="292.06" y="114.16" width="16.96" height="8.34" fill="#ff8a00"/>
<rect x="292.06" y="281.02" width="15.96" height="9.34" fill="#24ffdb"/>
<rect x="292.06" y="289.36" width="16.96" height="9.34" fill="#00d6ff"/>
<rect x="292.06" y="297.70" width="16.96" height="8.34" fill="#0085ff"/>
<rect x="308.02" y="89.13" width="16.96" height="9.34" fill="#c7ff38"/>
<rect x="308.02" y="97.47" width="16.96" height="9.34" fill="#ffe500"/>
<rect x="308.02" y="105.81" width="16.96" height="9.34" fill="#ff9e00"/>
<rect x="308.02" y="114.16" width="15.96" height="8.34" fill="#ff4c00"/>
<rect x="308.02" y="289.36" width="15.96" height="9.34" fill="#00ffff"/>
<rect x="308.02" y="297.70" width="16.96" height="9.34" fill="#00a8ff"/>
<rect x="308.02" y="306.05" width="16.96" height="8.34" fill="#0038ff"/>
<rect x="323.98" y="80.79" width="16.96" height="9.34" fill="#d1ff2e"/>
<rect x="323.98" y="89.13" width="16.96" height="9.34" fill="#ffe000"/>
<rect x="323.98" y="97.47" width="16.96" height="9.34" fill="#ff9400"/>
<rect x="323.98" y="105.81" width="15.96" height="8.34" fill="#ff4200"/>
<rect x="323.98" y="297.70" width="15.96" height="9.34" fill="#00dbff"/>
<rect x="323.98" y="306.05" width="16.96" height="8.34" fill="#008aff"/>
<rect x="339.94" y="80.79" width="16.96" height="9.34" fill="#ffe000"/>
<rect x="339.94" y="89.13" width="16.96" height="9.34" fill="#ff9400"/>
<rect x="339.94" y="97.47" width="15.96" height="8.34" fill="#ff4200"/>
<rect x="339.94" y="306.05" width="15.96" height="8.34" fill="#00bdff"/>
<rect x="355.90" y="72.44" width="16.96" height="9.34" fill="#ffe500"/>
<rect x="355.90" y="80.79" width="16.96" height="9.34" fill="#ff8a00"/>
<rect x="355.90" y="89.13" width="15.96" height="8.34" fill="#ff4200"/>
<rect x="371.86" y="72.44" width="16.96" height="9.34" fill="#ffa800"/>
<rect x="371.86" y="80.79" width="16.96" height="8.34" fill="#ff4c00"/>
<rect x="387.82" y="64.10" width="7.38" height="9.34" fill="#ffe000"/>
<rect x="387.82" y="72.44" width="7.38" height="9.34" fill="#ff7500"/>
<rect x="387.82" y="80.79" width="7.38" height="8.34" fill="#ff0500"/>
</g>
<circle cx="359.9" cy="89.4" r="6.2" fill="none" stroke="#fff" stroke-width="2"/>
<circle cx="162.2" cy="277.5" r="6.2" fill="none" stroke="#fff" stroke-width="2"/>
<text x="360.8" y="119.1" font-size="20" style="fill:#dc1e24;stroke:#dc1e24">Max</text>
<text x="124.7" y="306.8" font-size="20" style="fill:#1a1ad2;stroke:#1a1ad2">Min</text>

<!-- left axes -->
<g fill="none" stroke="#111" stroke-width="2">
<path d="M78,65.7 H93.4 V315.8 H78 M78,128.2 H93.4 M78,191 H93.4 M78,253.3 H93.4"/>
<path d="M121.9,343.6 V328.6 H394.9 V343.6 M212.9,328.6 V343.6 M303.9,328.6 V343.6"/>
</g>
<g font-size="20" text-anchor="end">
<text x="70.6" y="70.9">270</text>
<text x="70.6" y="133.4">225</text>
<text x="70.6" y="196.1">180</text>
<text x="70.6" y="258.7">135</text>
<text x="70.6" y="321.2">90</text>
</g>
<g font-size="20" text-anchor="middle">
<text x="121.9" y="366.8">1.75</text>
<text x="212.9" y="366.8">2.0</text>
<text x="303.9" y="366.8">2.25</text>
<text x="394.9" y="366.8">2.5</text>
<text x="258.6" y="397.6">Frequency (Hz)</text>
</g>
<text transform="translate(16.4,190) rotate(-90)" font-size="20" text-anchor="middle">Phase diff. (deg)</text>


<!-- photo -->
<g clip-path="url(#pclip)" filter="url(#soft)">
<rect x="437" y="32.3" width="160" height="113" fill="#191919"/>
<rect x="474" y="32.5" width="50" height="45" fill="#1c1c1c"/>
<rect x="478" y="32.5" width="4" height="59" fill="#242424"/>
<rect x="500" y="32.5" width="3" height="50" fill="#202020"/>
<rect x="560.6" y="32.5" width="7" height="12" fill="#262626"/>
<rect x="570.2" y="32.5" width="2.6" height="40" fill="#363636"/>
<rect x="557" y="72" width="39.5" height="73" fill="#131313"/>
<rect x="437.5" y="32.5" width="14" height="60" fill="#1a1a1a"/>
<rect x="446" y="32.5" width="5.4" height="60" fill="#262626"/>
<rect x="451.4" y="32.5" width="18" height="29.3" fill="#4e4a4a"/>
<rect x="453.3" y="42.5" width="16" height="5.3" fill="#2c2a2a"/>
<rect x="453.3" y="49.5" width="16" height="5.3" fill="#2c2a2a"/>
<rect x="453.3" y="56.5" width="16" height="3.5" fill="#2c2a2a"/>
<rect x="451.4" y="40.8" width="18" height="1.7" fill="#7a7676"/>
<rect x="451.4" y="47.8" width="18" height="1.7" fill="#767272"/>
<rect x="451.4" y="54.8" width="18" height="1.7" fill="#727070"/>
<rect x="451.4" y="60" width="18" height="1.8" fill="#6a6868"/>
<rect x="451.4" y="40.8" width="1.9" height="21" fill="#6e6a6a"/>
<rect x="451.4" y="61.8" width="18" height="11.4" fill="#2a2828"/>
<rect x="456.9" y="65.9" width="9.3" height="7" fill="#3e362e"/>
<rect x="453.3" y="72.9" width="14.1" height="4.1" rx="2" fill="#c4c0bc"/>
<rect x="451.4" y="77.3" width="18" height="14.4" fill="#242424"/>
<rect x="440" y="84.5" width="16.6" height="16" fill="#1a1f28"/>
<rect x="469.4" y="32.5" width="4.6" height="59.5" fill="#e2cfbe"/>
<rect x="556.7" y="55.3" width="27.9" height="2" fill="#e2e2e2"/>
<circle cx="556.2" cy="73.4" r="0.8" fill="#999"/>
<ellipse cx="458" cy="121" rx="5" ry="3" fill="#2a2a2a"/>
<!-- fish -->
<path id="fishp" d="M446.2,106.8 C446.2,103.2 449,100.5 453,98.6 C460,95.3 470,92.3 478,91.2 L504,90.3 L519.6,80.7 L524.5,86.5 L527.5,90.5 L532,95.5 C540,98.5 550,102 557,105 L567.3,103.5 L573,101.4 L588.3,100.7 L584.1,109.8 L583.4,118 L585,127.5 L578.5,125.3 L567.3,119.7 L559,116.8 L554.7,116.8 L550.5,119.7 L547.7,129.5 L542,125.3 L536.4,121.1 C525,123 512,124.2 500,124 C485,123.5 470,120.5 458,116 C451,113 446.2,110.5 446.2,106.8 Z" fill="#e9e6da"/>
<clipPath id="fishclip"><path d="M446.2,106.8 C446.2,103.2 449,100.5 453,98.6 C460,95.3 470,92.3 478,91.2 L504,90.3 L519.6,80.7 L524.5,86.5 L527.5,90.5 L532,95.5 C540,98.5 550,102 557,105 L567.3,103.5 L573,101.4 L588.3,100.7 L584.1,109.8 L583.4,118 L585,127.5 L578.5,125.3 L567.3,119.7 L559,116.8 L554.7,116.8 L550.5,119.7 L547.7,129.5 L542,125.3 L536.4,121.1 C525,123 512,124.2 500,124 C485,123.5 470,120.5 458,116 C451,113 446.2,110.5 446.2,106.8 Z"/></clipPath>
<g clip-path="url(#fishclip)">
<rect x="440" y="85" width="38.2" height="45" fill="#f1efe7"/>
<rect x="478.2" y="85" width="60" height="45" fill="#e2dfd2"/>
<rect x="479.1" y="91.2" width="23" height="9" fill="#7e7d78"/>
</g>
<g fill="#7a7973">
<polygon points="503.6,93.0 506.6,93.2 505.2,106.5 502.2,106.5"/>
<polygon points="508.9,93.3 511.8,93.5 510.4,106.3 507.5,106.3"/>
<polygon points="514.2,93.6 517.0,93.8 515.6,106.1 512.8,106.1"/>
<polygon points="519.5,93.8 522.3,94.0 520.9,105.9 518.1,105.9"/>
<polygon points="524.8,94.1 527.5,94.3 526.1,105.7 523.4,105.7"/>
<polygon points="530.1,94.4 532.7,94.6 531.3,105.5 528.7,105.5"/>
<polygon points="535.4,97.5 537.9,97.7 536.5,105.4 534.0,105.4"/>
<polygon points="540.7,99.6 543.1,99.8 541.7,105.2 539.3,105.2"/>
<polygon points="546.0,101.7 548.4,101.9 547.0,105.0 544.6,105.0"/>
<polygon points="551.3,103.8 553.6,104.0 552.2,104.8 549.9,104.8"/>
</g>
<g fill="#8a8982">
<rect x="499.6" y="109.6" width="2.80" height="12.4"/>
<rect x="504.9" y="109.8" width="2.75" height="11.7"/>
<rect x="510.2" y="110.0" width="2.70" height="11.0"/>
<rect x="515.5" y="110.2" width="2.65" height="10.3"/>
<rect x="520.8" y="110.4" width="2.60" height="9.6"/>
<rect x="526.1" y="110.6" width="2.55" height="8.9"/>
<rect x="531.4" y="110.8" width="2.50" height="8.2"/>
<rect x="536.7" y="111.0" width="2.45" height="7.5"/>
<rect x="542.0" y="111.2" width="2.40" height="6.8"/>
<rect x="547.3" y="111.4" width="2.35" height="6.1"/>
<polygon points="486.7,115 498.4,112.5 498.4,121.5 488,121.5" fill="#a8a69c"/>
</g>
<ellipse cx="559" cy="111.8" rx="3" ry="2" fill="#7a786f"/>
<rect x="575.2" y="107" width="1.2" height="11.3" fill="#4a4a4a"/>
</g>

<!-- force heatmap -->
<g clip-path="url(#fclip)">
<rect x="434.3" y="198.90" width="165.3" height="3.1" fill="url(#g0)"/>
<rect x="434.3" y="201.40" width="165.3" height="3.1" fill="url(#g1)"/>
<rect x="434.3" y="203.90" width="165.3" height="3.1" fill="url(#g2)"/>
<rect x="434.3" y="206.40" width="165.3" height="3.1" fill="url(#g3)"/>
<rect x="434.3" y="208.90" width="165.3" height="3.1" fill="url(#g4)"/>
<rect x="434.3" y="211.40" width="165.3" height="3.1" fill="url(#g5)"/>
<rect x="434.3" y="213.90" width="165.3" height="3.1" fill="url(#g6)"/>
<rect x="434.3" y="216.40" width="165.3" height="3.1" fill="url(#g7)"/>
<rect x="434.3" y="218.90" width="165.3" height="3.1" fill="url(#g8)"/>
<rect x="434.3" y="221.40" width="165.3" height="3.1" fill="url(#g9)"/>
<rect x="434.3" y="223.90" width="165.3" height="3.1" fill="url(#g10)"/>
<rect x="434.3" y="226.40" width="165.3" height="3.1" fill="url(#g11)"/>
<rect x="434.3" y="228.90" width="165.3" height="3.1" fill="url(#g12)"/>
<rect x="434.3" y="231.40" width="165.3" height="3.1" fill="url(#g13)"/>
<rect x="434.3" y="233.90" width="165.3" height="3.1" fill="url(#g14)"/>
<rect x="434.3" y="236.40" width="165.3" height="3.1" fill="url(#g15)"/>
<rect x="434.3" y="238.90" width="165.3" height="3.1" fill="url(#g16)"/>
<rect x="434.3" y="241.40" width="165.3" height="3.1" fill="url(#g17)"/>
<rect x="434.3" y="243.90" width="165.3" height="3.1" fill="url(#g18)"/>
<rect x="434.3" y="246.40" width="165.3" height="3.1" fill="url(#g19)"/>
<rect x="434.3" y="248.90" width="165.3" height="3.1" fill="url(#g20)"/>
<rect x="434.3" y="251.40" width="165.3" height="3.1" fill="url(#g21)"/>
<rect x="434.3" y="253.90" width="165.3" height="3.1" fill="url(#g22)"/>
<rect x="434.3" y="256.40" width="165.3" height="3.1" fill="url(#g23)"/>
<rect x="434.3" y="258.90" width="165.3" height="3.1" fill="url(#g24)"/>
<rect x="434.3" y="261.40" width="165.3" height="3.1" fill="url(#g25)"/>
<rect x="434.3" y="263.90" width="165.3" height="3.1" fill="url(#g26)"/>
<rect x="434.3" y="266.40" width="165.3" height="3.1" fill="url(#g27)"/>
<rect x="434.3" y="268.90" width="165.3" height="3.1" fill="url(#g28)"/>
<rect x="434.3" y="271.40" width="165.3" height="3.1" fill="url(#g29)"/>
<rect x="434.3" y="273.90" width="165.3" height="3.1" fill="url(#g30)"/>
<rect x="434.3" y="276.40" width="165.3" height="3.1" fill="url(#g31)"/>
<rect x="434.3" y="278.90" width="165.3" height="3.1" fill="url(#g32)"/>
<rect x="434.3" y="281.40" width="165.3" height="3.1" fill="url(#g33)"/>
<rect x="434.3" y="283.90" width="165.3" height="3.1" fill="url(#g34)"/>
<rect x="434.3" y="286.40" width="165.3" height="3.1" fill="url(#g35)"/>
<rect x="434.3" y="288.90" width="165.3" height="3.1" fill="url(#g36)"/>
<rect x="434.3" y="291.40" width="165.3" height="3.1" fill="url(#g37)"/>
<rect x="434.3" y="293.90" width="165.3" height="3.1" fill="url(#g38)"/>
<rect x="434.3" y="296.40" width="165.3" height="3.1" fill="url(#g39)"/>
<rect x="434.3" y="298.90" width="165.3" height="3.1" fill="url(#g40)"/>
<rect x="434.3" y="301.40" width="165.3" height="3.1" fill="url(#g41)"/>
<rect x="434.3" y="303.90" width="165.3" height="3.1" fill="url(#g42)"/>
<rect x="434.3" y="306.40" width="165.3" height="3.1" fill="url(#g43)"/>
<rect x="434.3" y="308.90" width="165.3" height="3.1" fill="url(#g44)"/>
<rect x="434.3" y="311.40" width="165.3" height="3.1" fill="url(#g45)"/>
<rect x="434.3" y="313.90" width="165.3" height="3.1" fill="url(#g46)"/>
<rect x="434.3" y="316.40" width="165.3" height="3.1" fill="url(#g47)"/>
<rect x="434.3" y="318.90" width="165.3" height="3.1" fill="url(#g48)"/>
<rect x="434.3" y="321.40" width="165.3" height="3.1" fill="url(#g49)"/>
</g>
<g fill="none" stroke="#111" stroke-width="2.4" stroke-dasharray="5.2 3.4">
<path d="M595.8,216.8 L584.4,217.7 L574.8,219.0 L565.1,220.8 L555.5,223.0 L545.9,226.0 L536.8,228.6 L527.6,231.7 L518.8,236.1 L511.4,242.7 L505.6,250.7 L503.1,258.5 L502.7,264.5 L503.3,271.0 L505.1,278.2 L511.3,286.1 L519.2,291.4 L528.0,295.4 L537.7,298.0 L547.9,299.3 L557.3,300.2 L566.9,302.0 L576.1,304.6 L585.3,307.2 L594.9,308.5"/>
<path d="M596.4,222.3 L594.0,224.3 L586.2,228.6 L576.5,231.3 L566.9,233.9 L557.3,237.0 L547.6,240.9 L539.9,244.9 L531.1,250.2 L526.3,257.5 L525.3,263.5 L526.0,269.5 L528.9,275.6 L536.4,281.7 L546.0,284.9 L555.5,286.2 L565.1,288.4 L574.8,291.5 L583.5,295.4 L591.9,300.7 L594.5,302.8 L596.6,304.2"/>
</g>
<!-- arrow -->
<line x1="270.4" y1="172.3" x2="505.3" y2="251.2" stroke="#9a9a9a" stroke-width="1.7"/>
<polygon points="258.2,168.2 274.5,166.7 269.8,172.1 270.8,178.4" fill="#8e8e8e"/>
<text x="436.6" y="187.7" font-size="20.4">Force</text>
<text x="518.3" y="182.8" font-size="16.9">−0.02</text>
<text x="570.9" y="182.8" font-size="16.7">0.02 N</text>
<rect x="541.5" y="186.9" width="53.5" height="4.6" fill="url(#jet)"/>
<g fill="none" stroke="#111" stroke-width="2">
<path d="M611.6,197.6 H603.4 V322.3 H611.6 M603.4,229.2 H611.6 M603.4,260.6 H611.6 M603.4,292 H611.6"/>
<path d="M437.3,339.5 V332.9 H596.3 V339.5 M477,332.9 V339.5 M516.7,332.9 V339.5 M556.4,332.9 V339.5"/>
</g>
<g font-size="20">
<text x="618.8" y="203.7">360</text>
<text x="618.8" y="235.3">270</text>
<text x="618.8" y="266.7">180</text>
<text x="618.8" y="298.1">90</text>
<text x="618.8" y="328.4">0</text>
</g>
<g font-size="20" text-anchor="middle">
<text x="437.3" y="362.3">0.5</text>
<text x="477" y="362.3">1.0</text>
<text x="516.7" y="362.3">1.5</text>
<text x="556.4" y="362.3">2.0</text>
<text x="596.3" y="362.3">2.5</text>
<text x="516.5" y="392.7">Frequency (Hz)</text>
</g>
<text transform="translate(680.2,260) rotate(-90)" font-size="20" text-anchor="middle">Phase diff. (deg)</text>

<!-- ===== panel b ===== -->
<text x="0.9" y="457.2" font-size="26" font-weight="bold">b</text>
<g fill="none" stroke="#111" stroke-width="2">
<path d="M83.2,466.5 H92.9 V594.7 H83.2 M83.2,530.6 H92.9"/>
<path d="M106.3,620.5 V605.3 H327.7 V620.5 M161.3,605.3 V620.5 M216.7,605.3 V620.5 M272.4,605.3 V620.5"/>
<path d="M421.1,467.5 H431.1 V594.2 H421.1 M421.1,530.9 H431.1"/>
<path d="M443.4,620.8 V605.6 H664.9 V620.8 M498.7,605.6 V620.8 M554.2,605.6 V620.8 M609.6,605.6 V620.8"/>
</g>
<g font-size="20" text-anchor="end">
<text x="75.6" y="472.4">1</text>
<text x="75.6" y="536.5">0.5</text>
<text x="75.6" y="600.6">0</text>
<text x="412.4" y="473.4">1</text>
<text x="412.4" y="536.8">0.5</text>
<text x="412.4" y="600.1">0</text>
</g>
<g font-size="20" text-anchor="middle">
<text x="106.3" y="644">0</text>
<text x="161.3" y="644">0.25</text>
<text x="216.7" y="644">0.5</text>
<text x="272.4" y="644">0.75</text>
<text x="327.7" y="644">1</text>
<text x="443.4" y="643.8">0</text>
<text x="498.7" y="643.8">0.25</text>
<text x="554.2" y="643.8">0.5</text>
<text x="609.6" y="643.8">0.75</text>
<text x="664.9" y="643.8">1</text>
<text x="390" y="675.2">Position along the body (<tspan font-style="italic">L</tspan>)</text>
</g>
<text transform="translate(27.9,530.6) rotate(-90)" font-size="20" text-anchor="middle">Amp. envelope</text>
<text transform="translate(369.2,530.6) rotate(-90)" font-size="20" text-anchor="middle">Phase envelope</text>

<!-- legend -->
<g stroke-width="2.6">
<line x1="113.8" y1="475.1" x2="138.6" y2="475.1" stroke="#111"/>
<line x1="113.8" y1="495.1" x2="138.6" y2="495.1" stroke="#1414dc"/>
<line x1="113.8" y1="514.5" x2="138.6" y2="514.5" stroke="#ee4617"/>
</g>
<g font-size="16">
<text x="144.6" y="480.1">Live fish</text>
<text x="144.6" y="499.3" style="fill:#1414dc;stroke:#1414dc">Model (min CoT)</text>
<text x="144.6" y="518.8" style="fill:#ee4617;stroke:#ee4617">Model (max CoT)</text>
</g>
<g fill="none" stroke-width="2.4" stroke-linejoin="round" stroke-linecap="round">
<path d="M121.90,591.70 C122.92,591.55 125.82,591.23 128.00,590.80 C130.18,590.37 132.37,589.88 135.00,589.10 C137.63,588.32 140.87,587.07 143.80,586.10 C146.73,585.13 149.68,584.27 152.60,583.30 C155.52,582.33 158.38,581.33 161.30,580.30 C164.22,579.27 167.18,578.27 170.10,577.10 C173.02,575.93 175.88,574.82 178.80,573.30 C181.72,571.78 184.67,569.75 187.60,568.00 C190.53,566.25 193.18,564.25 196.40,562.80 C199.62,561.35 203.98,559.83 206.90,559.30 C209.82,558.77 211.08,559.42 213.90,559.60 C216.72,559.78 220.68,559.90 223.80,560.40 C226.92,560.90 229.67,561.77 232.60,562.60 C235.53,563.43 238.47,564.58 241.40,565.40 C244.33,566.22 247.25,567.10 250.20,567.50 C253.15,567.90 256.15,568.10 259.10,567.80 C262.05,567.50 264.97,566.93 267.90,565.70 C270.83,564.47 273.77,563.03 276.70,560.40 C279.63,557.77 282.57,554.00 285.50,549.90 C288.43,545.80 291.37,540.80 294.30,535.80 C297.23,530.80 300.17,525.48 303.10,519.90 C306.03,514.32 308.97,508.17 311.90,502.30 C314.83,496.43 317.82,489.75 320.70,484.70 C323.58,479.65 327.78,474.12 329.20,472.00" stroke="#ee4617"/>
<path d="M106.10,590.80 C107.42,590.80 111.37,590.73 114.00,590.80 C116.63,590.87 119.42,591.93 121.90,591.20 C124.38,590.47 126.42,587.93 128.90,586.40 C131.38,584.87 134.32,582.87 136.80,582.00 C139.28,581.13 141.17,581.72 143.80,581.20 C146.43,580.68 149.68,579.70 152.60,578.90 C155.52,578.10 158.38,577.18 161.30,576.40 C164.22,575.62 167.18,575.02 170.10,574.20 C173.02,573.38 175.88,572.38 178.80,571.50 C181.72,570.62 184.67,569.62 187.60,568.90 C190.53,568.18 193.48,567.70 196.40,567.20 C199.32,566.70 202.48,566.20 205.10,565.90 C207.72,565.60 208.98,565.43 212.10,565.40 C215.22,565.37 220.38,565.65 223.80,565.70 C227.22,565.75 229.67,565.85 232.60,565.70 C235.53,565.55 238.47,565.43 241.40,564.80 C244.33,564.17 247.25,563.07 250.20,561.90 C253.15,560.73 256.15,559.52 259.10,557.80 C262.05,556.08 264.97,554.10 267.90,551.60 C270.83,549.10 273.77,546.03 276.70,542.80 C279.63,539.57 282.57,535.87 285.50,532.20 C288.43,528.53 291.37,525.05 294.30,520.80 C297.23,516.55 300.17,511.25 303.10,506.70 C306.03,502.15 308.97,497.90 311.90,493.50 C314.83,489.10 318.40,483.77 320.70,480.30 C323.00,476.83 324.87,473.97 325.70,472.70" stroke="#1414dc"/>
<path d="M106.30,574.90 C107.58,575.57 111.25,577.62 114.00,578.90 C116.75,580.18 119.88,581.43 122.80,582.60 C125.72,583.77 128.58,585.03 131.50,585.90 C134.42,586.77 137.37,587.27 140.30,587.80 C143.23,588.33 146.18,588.75 149.10,589.10 C152.02,589.45 154.88,589.82 157.80,589.90 C160.72,589.98 163.68,589.88 166.60,589.60 C169.52,589.32 172.68,588.73 175.30,588.20 C177.92,587.67 179.67,587.28 182.30,586.40 C184.93,585.52 187.88,584.27 191.10,582.90 C194.32,581.53 198.10,579.80 201.60,578.20 C205.10,576.60 208.40,574.93 212.10,573.30 C215.80,571.67 220.38,569.90 223.80,568.40 C227.22,566.90 229.67,565.57 232.60,564.30 C235.53,563.03 238.47,562.03 241.40,560.80 C244.33,559.57 247.25,558.28 250.20,556.90 C253.15,555.52 256.15,554.27 259.10,552.50 C262.05,550.73 264.97,548.80 267.90,546.30 C270.83,543.80 273.77,540.87 276.70,537.50 C279.63,534.13 282.57,530.20 285.50,526.10 C288.43,522.00 291.37,517.32 294.30,512.90 C297.23,508.48 300.17,503.28 303.10,499.60 C306.03,495.92 308.97,494.02 311.90,490.80 C314.83,487.58 318.35,483.23 320.70,480.30 C323.05,477.37 325.12,474.38 326.00,473.20" stroke="#111"/>
<path d="M443.60,542.10 C444.90,543.02 448.92,545.83 451.40,547.60 C453.88,549.37 456.12,550.55 458.50,552.70 C460.88,554.85 463.32,557.78 465.70,560.50 C468.08,563.22 470.42,566.48 472.80,569.00 C475.18,571.52 477.45,573.48 480.00,575.60 C482.55,577.72 485.38,580.07 488.10,581.70 C490.82,583.33 493.23,584.33 496.30,585.40 C499.37,586.47 503.10,587.32 506.50,588.10 C509.90,588.88 513.63,589.53 516.70,590.10 C519.77,590.67 522.17,591.43 524.90,591.50 C527.63,591.57 530.37,591.35 533.10,590.50 C535.83,589.65 538.23,588.10 541.30,586.40 C544.37,584.70 548.10,582.58 551.50,580.30 C554.90,578.02 557.68,576.25 561.70,572.70 C565.72,569.15 571.53,563.78 575.60,559.00 C579.67,554.22 582.58,549.00 586.10,544.00 C589.62,539.00 593.17,533.85 596.70,529.00 C600.23,524.15 603.77,519.88 607.30,514.90 C610.83,509.92 614.38,503.65 617.90,499.10 C621.42,494.55 624.88,491.28 628.40,487.60 C631.92,483.92 635.47,479.78 639.00,477.00 C642.53,474.22 646.07,472.52 649.60,470.90 C653.13,469.28 658.43,467.90 660.20,467.30" stroke="#ee4617"/>
<path d="M443.60,594.00 C444.72,593.52 447.98,592.53 450.30,591.10 C452.62,589.67 454.93,587.43 457.50,585.40 C460.07,583.37 462.98,580.67 465.70,578.90 C468.42,577.13 471.25,576.17 473.80,574.80 C476.35,573.43 478.62,571.67 481.00,570.70 C483.38,569.73 485.55,569.68 488.10,569.00 C490.65,568.32 493.57,567.62 496.30,566.60 C499.03,565.58 501.77,564.27 504.50,562.90 C507.23,561.53 509.63,560.03 512.70,558.40 C515.77,556.77 519.50,554.73 522.90,553.10 C526.30,551.47 529.35,550.20 533.10,548.60 C536.85,547.00 541.32,545.55 545.40,543.50 C549.48,541.45 554.33,538.13 557.60,536.30 C560.87,534.47 562.00,534.30 565.00,532.50 C568.00,530.70 572.08,528.28 575.60,525.50 C579.12,522.72 582.58,518.73 586.10,515.80 C589.62,512.87 593.17,510.45 596.70,507.90 C600.23,505.35 603.77,503.00 607.30,500.50 C610.83,498.00 614.38,495.20 617.90,492.90 C621.42,490.60 624.88,488.62 628.40,486.70 C631.92,484.78 635.47,482.95 639.00,481.40 C642.53,479.85 645.93,478.42 649.60,477.40 C653.27,476.38 659.10,475.65 661.00,475.30" stroke="#1414dc"/>
<path d="M443.60,594.00 C445.23,593.77 450.07,593.28 453.40,592.60 C456.73,591.92 460.20,591.03 463.60,589.90 C467.00,588.77 470.40,587.40 473.80,585.80 C477.20,584.20 480.58,582.42 484.00,580.30 C487.42,578.18 490.88,575.58 494.30,573.10 C497.72,570.62 501.10,568.02 504.50,565.40 C507.90,562.78 511.30,559.85 514.70,557.40 C518.10,554.95 521.15,553.02 524.90,550.70 C528.65,548.38 533.12,545.72 537.20,543.50 C541.28,541.28 545.32,539.45 549.40,537.40 C553.48,535.35 557.33,533.63 561.70,531.20 C566.07,528.77 571.53,525.17 575.60,522.80 C579.67,520.43 582.58,518.97 586.10,517.00 C589.62,515.03 593.17,512.97 596.70,511.00 C600.23,509.03 603.77,507.25 607.30,505.20 C610.83,503.15 614.38,500.90 617.90,498.70 C621.42,496.50 624.88,494.28 628.40,492.00 C631.92,489.72 635.47,487.20 639.00,485.00 C642.53,482.80 645.83,480.72 649.60,478.80 C653.37,476.88 659.60,474.38 661.60,473.50" stroke="#111"/>
</g>
</svg>
</body></html>
